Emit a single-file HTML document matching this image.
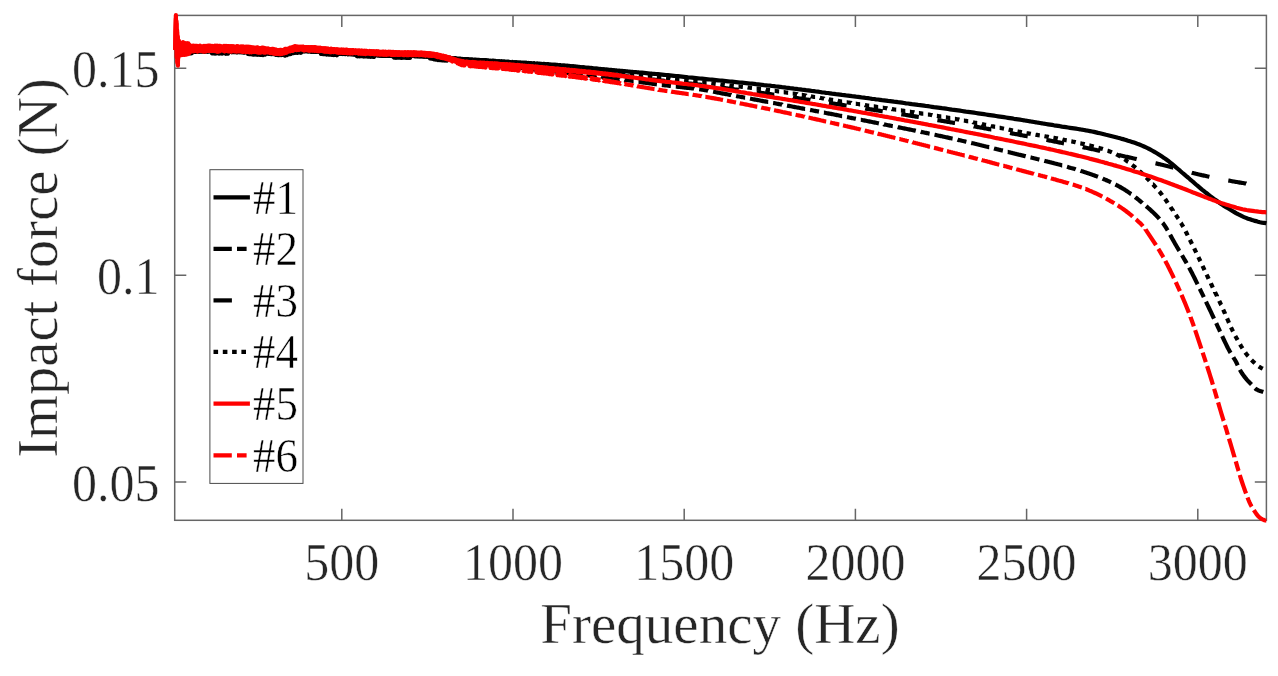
<!DOCTYPE html>
<html lang="en">
<head>
<meta charset="utf-8">
<title>Impact force vs frequency</title>
<style>
html,body{margin:0;padding:0;background:#fff;}
body{width:1278px;height:676px;overflow:hidden;font-family:"Liberation Serif",serif;}
svg{display:block;}
</style>
</head>
<body>
<svg width="1278" height="676" viewBox="0 0 1278 676">
<rect x="0" y="0" width="1278" height="676" fill="#fff"/>
<g fill="none" stroke="#666666" stroke-width="1.5">
<rect x="174.7" y="15.4" width="1091.7" height="504.9"/>
<path d="M341.8 520.3V508.7M341.8 15.4V27.0M513.0 520.3V508.7M513.0 15.4V27.0M684.2 520.3V508.7M684.2 15.4V27.0M855.4 520.3V508.7M855.4 15.4V27.0M1026.6 520.3V508.7M1026.6 15.4V27.0M1197.8 520.3V508.7M1197.8 15.4V27.0M174.7 68.3H186.3M1266.4 68.3H1254.8M174.7 275.2H186.3M1266.4 275.2H1254.8M174.7 482.0H186.3M1266.4 482.0H1254.8"/>
</g>
<g font-family="'Liberation Serif', serif">
<text transform="translate(341.8 579.8) scale(1.0 1.056)" font-size="50px" text-anchor="middle" fill="#262626" stroke="#fff" stroke-width="0.45">500</text>
<text transform="translate(513.0 579.8) scale(1.0 1.056)" font-size="50px" text-anchor="middle" fill="#262626" stroke="#fff" stroke-width="0.45">1000</text>
<text transform="translate(684.2 579.8) scale(1.0 1.056)" font-size="50px" text-anchor="middle" fill="#262626" stroke="#fff" stroke-width="0.45">1500</text>
<text transform="translate(855.4 579.8) scale(1.0 1.056)" font-size="50px" text-anchor="middle" fill="#262626" stroke="#fff" stroke-width="0.45">2000</text>
<text transform="translate(1026.6 579.8) scale(1.0 1.056)" font-size="50px" text-anchor="middle" fill="#262626" stroke="#fff" stroke-width="0.45">2500</text>
<text transform="translate(1197.8 579.8) scale(1.0 1.056)" font-size="50px" text-anchor="middle" fill="#262626" stroke="#fff" stroke-width="0.45">3000</text>
<text transform="translate(159.6 86.8) scale(1.0 1.056)" font-size="50px" text-anchor="end" fill="#262626" stroke="#fff" stroke-width="0.45">0.15</text>
<text transform="translate(159.6 293.7) scale(1.0 1.056)" font-size="50px" text-anchor="end" fill="#262626" stroke="#fff" stroke-width="0.45">0.1</text>
<text transform="translate(159.6 500.5) scale(1.0 1.056)" font-size="50px" text-anchor="end" fill="#262626" stroke="#fff" stroke-width="0.45">0.05</text>
<text id="xlabel" transform="translate(720.0 642.9) scale(1.018 1.0)" font-size="56px" text-anchor="middle" fill="#262626" stroke="#fff" stroke-width="0.45">Frequency (Hz)</text>
<text id="ylabel" transform="translate(56.6 267.9) rotate(-90)" font-size="56.5px" text-anchor="middle" fill="#262626" stroke="#fff" stroke-width="0.45">Impact force (N)</text>
</g>
<g fill="none" stroke-width="4.2" stroke-linejoin="round" stroke-linecap="butt">
<path id="c1" stroke="#000" d="M178.0 51.2L178.5 48.4L179.0 51.5L179.5 48.4L180.0 52.0L180.5 48.6L181.0 51.6L181.5 49.0L182.0 51.4L182.5 48.6L183.0 51.7L183.5 48.4L184.0 51.4L184.5 49.0L185.0 51.4L185.5 48.3L186.0 51.3L186.5 48.7L187.0 51.9L187.5 49.1L188.0 51.6L188.5 48.3L189.0 51.3L189.5 48.7L190.0 51.8L190.5 49.0L191.0 51.5L191.5 48.5L192.0 51.6L192.5 48.7L193.0 51.3L193.5 48.7L194.0 51.4L194.5 48.7L195.0 51.4L195.5 48.4L196.0 51.7L196.5 48.9L197.0 51.5L197.5 48.9L198.0 51.4L198.5 48.8L199.0 51.6L199.5 48.8L200.0 51.4L200.5 48.6L201.0 51.4L201.5 48.4L202.0 51.2L202.5 48.5L203.0 51.4L203.5 48.8L204.0 51.6L204.5 48.7L205.0 51.4L205.5 49.1L206.0 51.2L206.5 48.6L207.0 51.5L207.5 48.6L208.0 51.8L208.5 48.6L209.0 51.1L209.5 48.9L210.0 51.6L210.5 49.0L211.0 51.9L211.5 48.5L212.0 51.8L212.5 48.9L213.0 51.8L213.5 49.1L214.0 51.4L214.5 48.9L215.0 51.7L215.5 48.9L216.0 51.3L216.5 49.0L217.0 51.4L217.5 49.1L218.0 51.3L218.5 49.0L219.0 51.5L219.5 48.7L220.0 51.8L220.5 48.9L221.0 51.6L221.5 48.8L222.0 51.9L222.5 48.9L223.0 51.9L223.5 48.7L224.0 51.3L224.5 48.8L225.0 51.5L225.5 49.1L226.0 51.9L226.5 48.9L227.0 51.4L227.5 49.0L228.0 51.4L228.5 49.2L229.0 52.0L229.5 49.2L230.0 51.8L230.5 49.0L231.0 52.0L231.5 49.0L232.0 51.4L232.5 49.3L233.0 51.8L233.5 49.6L234.0 51.9L234.5 49.2L235.0 52.1L235.5 49.0L236.0 51.6L236.5 49.5L237.0 52.0L237.5 49.6L238.0 51.7L238.5 49.3L239.0 51.7L239.5 49.2L240.0 52.2L240.5 49.8L241.0 52.0L241.5 49.2L242.0 52.4L242.5 49.7L243.0 51.8L243.5 49.3L244.0 52.4L244.5 49.8L245.0 52.1L245.5 49.5L246.0 52.4L246.5 49.9L247.0 52.3L247.5 49.5L248.0 52.3L248.5 50.0L249.0 52.0L249.5 50.0L250.0 52.6L250.5 50.2L251.0 52.0L251.5 50.0L252.0 52.1L252.5 50.2L253.0 52.1L253.5 50.0L254.0 52.7L254.5 50.2L255.0 52.3L255.5 50.3L256.0 52.7L256.5 49.9L257.0 53.0L257.5 50.5L258.0 52.4L258.5 50.2L259.0 53.1L259.5 50.5L260.0 53.0L260.5 50.3L261.0 53.0L261.5 50.3L262.0 52.6L262.5 50.8L263.0 52.9L263.5 51.0L264.0 53.4L264.5 51.2L265.0 53.3L265.5 51.2L266.0 53.2L266.5 51.1L267.0 53.1L267.5 51.1L268.0 53.4L268.5 51.3L269.0 53.7L269.5 51.6L270.0 53.4L270.5 51.5L271.0 53.6L271.5 51.7L272.0 54.1L272.5 51.5L273.0 53.7L273.5 51.9L274.0 53.9L274.5 52.0L275.0 54.1L275.5 52.2L276.0 54.6L276.5 52.4L277.0 54.6L277.5 52.4L278.0 54.8L278.5 52.9L279.0 54.9L279.5 52.4L280.0 54.8L280.5 52.8L281.0 54.8L281.5 52.4L282.0 54.6L282.5 52.6L283.0 54.6L283.5 51.9L284.0 54.0L284.5 51.8L285.0 53.5L285.5 51.3L286.0 53.6L286.5 51.2L287.0 53.3L287.5 51.2L288.0 52.8L288.5 50.9L289.0 52.7L289.5 50.7L290.0 52.5L290.5 50.2L291.0 51.9L291.5 50.1L292.0 51.7L292.5 49.4L293.0 51.4L293.5 49.4L294.0 51.2L294.5 49.3L295.0 51.1L295.5 49.0L296.0 50.7L296.5 49.0L297.0 50.9L297.5 49.1L298.0 51.0L298.5 49.1L299.0 51.0L299.5 48.9L300.0 50.6L300.5 49.0L301.0 50.8L301.5 49.0L302.0 50.9L302.5 49.2L303.0 51.1L303.5 49.4L304.0 51.0L304.5 49.3L305.0 50.8L305.5 49.2L306.0 51.1L306.5 49.2L307.0 51.2L307.5 49.5L308.0 51.4L308.5 49.7L309.0 51.0L309.5 49.4L310.0 51.2L310.5 49.6L311.0 51.5L311.5 49.7L312.0 51.6L312.5 49.6L313.0 51.3L313.5 50.0L314.0 51.4L314.5 49.6L315.0 51.5L315.5 50.1L316.0 51.5L316.5 49.8L317.0 51.5L317.5 49.9L318.0 51.6L318.5 49.9L319.0 51.9L319.5 50.4L320.0 52.1L320.5 50.4L321.0 52.1L321.5 50.4L322.0 51.9L322.5 50.7L323.0 52.0L323.5 50.7L324.0 52.1L324.5 50.9L325.0 52.6L325.5 51.0L326.0 52.5L326.5 51.0L327.0 52.4L327.5 50.8L328.0 52.8L328.5 51.0L329.0 52.5L329.5 50.9L330.0 52.6L330.5 51.3L331.0 52.9L331.5 51.1L332.0 53.1L332.5 51.3L333.0 53.0L333.5 51.3L334.0 53.3L334.5 51.4L335.0 53.3L335.5 51.8L336.0 53.1L336.5 51.7L337.0 53.3L337.5 51.6L338.0 53.2L338.5 51.7L339.0 53.4L339.5 51.7L340.0 53.3L340.5 51.9L341.0 53.3L341.5 52.1L342.0 53.8L342.5 52.1L343.0 53.8L343.5 52.1L344.0 53.5L344.5 52.0L345.0 53.5L345.5 52.1L346.0 53.6L346.5 52.2L347.0 53.7L347.5 52.4L348.0 54.1L348.5 52.4L349.0 54.0L349.5 52.3L350.0 53.8L350.5 52.3L351.0 54.2L351.5 52.7L352.0 54.1L352.5 52.7L353.0 54.2L353.5 52.8L354.0 54.2L354.5 52.5L355.0 54.3L355.5 52.9L356.0 54.4L356.5 52.9L357.0 54.4L357.5 52.8L358.0 54.2L358.5 52.8L359.0 54.5L359.5 52.8L360.0 54.6L360.5 53.1L361.0 54.3L361.5 53.2L362.0 54.5L362.5 53.1L363.0 54.5L363.5 53.1L364.0 54.5L364.5 53.4L365.0 54.6L365.5 53.3L366.0 54.7L366.5 53.1L367.0 54.6L367.5 53.2L368.0 54.8L368.5 53.4L369.0 54.8L369.5 53.2L370.0 54.8L370.5 53.3L371.0 55.0L371.5 53.5L372.0 55.1L372.5 53.5L373.0 55.0L373.5 53.5L374.0 55.0L374.5 53.6L375.0 55.0L375.5 53.5L376.0 55.1L376.5 53.8L377.0 55.1L377.5 53.6L378.0 55.3L378.5 53.8L379.0 55.2L379.5 53.9L380.0 55.5L380.5 54.1L381.0 55.5L381.5 53.8L382.0 55.3L382.5 54.1L383.0 55.5L383.5 53.9L384.0 55.6L384.5 53.9L385.0 55.4L385.5 54.3L386.0 55.5L386.5 54.2L387.0 55.6L387.5 54.4L388.0 55.7L388.5 54.1L389.0 55.8L389.5 54.1L390.0 55.8L390.5 54.2L391.0 55.5L391.5 54.2L392.0 55.6L392.5 54.5L393.0 55.7L393.5 54.2L394.0 55.8L394.5 54.5L395.0 55.7L395.5 54.3L396.0 55.9L396.5 54.6L397.0 55.7L397.5 54.6L398.0 55.7L398.5 54.5L399.0 55.7L399.5 54.5L400.0 56.0L400.5 54.4L401.0 55.7L401.5 54.7L402.0 55.8L402.5 54.5L403.0 55.8L403.5 54.7L404.0 55.8L404.5 54.7L405.0 56.0L405.5 54.6L406.0 55.9L406.5 54.6L407.0 55.9L407.5 54.6L408.0 55.9L408.5 54.7L409.0 56.1L409.5 54.6L410.0 56.1L410.5 54.8L411.0 56.0L411.5 54.8L412.0 55.8L412.5 54.8L413.0 55.8L413.5 54.8L414.0 56.1L414.5 54.7L415.0 56.1L415.5 54.9L416.0 55.9L416.5 55.0L417.0 55.9L417.5 55.0L418.0 56.2L418.5 54.7L419.0 56.0L419.5 55.0L420.0 56.3L420.5 54.9L421.0 56.1L421.5 55.0L422.0 56.1L422.5 55.0L423.0 56.3L423.5 55.0L424.0 56.4L424.5 55.2L425.0 56.3L425.5 55.0L426.0 56.3L426.5 55.2L427.0 56.5L427.5 55.4L428.0 56.7L428.5 55.4L429.0 56.6L429.5 55.3L430.0 56.5L430.5 55.4L431.0 56.7L431.5 55.8L432.0 57.0L432.5 55.9L433.0 57.0L433.5 56.2L434.0 57.3L434.5 56.2L435.0 57.7L435.5 56.5L436.0 57.9L436.5 56.6L437.0 57.9L437.5 57.0L438.0 58.1L438.5 57.1L439.0 58.0L439.5 56.9L440.0 58.4L440.5 57.2L441.0 58.4L441.5 57.2L442.0 58.6L442.5 57.4L443.0 58.5L443.5 57.5L444.0 58.5L444.5 57.5L445.0 58.6L445.5 57.7L446.0 58.7L446.5 57.6L447.0 58.7L447.5 57.6L448.0 58.9L448.5 57.8L449.0 59.0L449.5 58.0L450.0 58.9L450.5 57.8L451.0 59.2L451.5 58.1L452.0 59.2L452.5 58.2L453.0 59.1L453.5 58.3L454.0 59.2L454.5 58.3L455.0 59.5L455.5 58.3L456.0 59.3L456.5 58.5L457.0 59.3L457.5 58.6L458.0 59.6L458.5 58.6L459.0 59.6L459.5 58.7L460.0 59.7L460.5 58.7L461.0 59.8L461.5 59.0L462.0 59.9L462.5 59.0L463.0 60.0L463.5 59.1L464.0 60.2L464.5 59.2L465.0 60.3L465.5 59.2L466.0 60.1L466.5 59.2L467.0 60.3L467.5 59.2L468.0 60.2L468.5 59.3L469.0 60.5L469.5 59.5L470.0 60.4L470.5 59.4L471.0 60.4L471.5 59.4L472.0 60.6L472.5 59.5L473.0 60.6L473.5 59.6L474.0 60.6L474.5 59.7L475.0 60.8L475.5 59.6L476.0 60.7L476.5 59.9L477.0 60.7L477.5 59.9L478.0 61.0L478.5 60.0L479.0 60.9L479.5 60.0L480.0 61.1L480.5 60.1L481.0 60.9L481.5 60.1L482.0 61.1L482.5 60.2L483.0 61.2L483.5 60.2L484.0 61.1L484.5 60.3L485.0 61.4L485.5 60.2L486.0 61.2L486.5 60.3L487.0 61.3L487.5 60.4L488.0 61.5L488.5 60.4L489.0 61.6L489.5 60.7L490.0 61.6L490.5 60.7L491.0 61.7L491.5 60.9L492.0 61.7L492.5 60.7L493.0 61.7L493.5 60.8L494.0 61.9L494.5 60.9L495.0 62.0L495.5 61.0L496.0 61.9L496.5 61.1L497.0 62.0L497.5 61.2L498.0 62.1L498.5 61.3L499.0 62.0L499.5 61.1L500.0 62.3L500.5 61.4L501.0 62.2L501.5 61.3L502.0 62.4L502.5 61.5L503.0 62.4L503.5 61.4L504.0 62.3L504.5 61.4L505.0 62.5L505.5 61.7L506.0 62.7L506.5 61.8L507.0 62.6L507.5 61.7L508.0 62.6L508.5 61.7L509.0 62.8L509.5 62.0L510.0 62.7L510.5 62.1L511.0 62.9L511.5 62.1L512.0 63.0L512.5 62.0L513.0 63.1L513.5 62.2L514.0 63.0L514.5 62.2L515.0 63.1L515.5 62.3L516.0 63.2L516.5 62.3L517.0 63.2L517.5 62.4L518.0 63.3L518.5 62.5L519.0 63.4L519.5 62.5L520.0 63.5L520.5 62.5L521.0 63.4L521.5 62.7L522.0 63.6L522.5 62.7L523.0 63.5L523.5 62.7L524.0 63.6L524.5 62.8L525.0 63.8L525.5 62.8L526.0 63.8L526.5 62.8L527.0 63.8L527.5 63.1L528.0 63.8L528.5 63.0L529.0 63.9L529.5 63.1L530.0 64.0L530.5 63.1L531.0 64.1L531.5 63.3L532.0 64.1L532.5 63.4L533.0 64.2L533.5 63.4L534.0 64.2L534.5 63.3L535.0 64.3L535.5 63.6L536.0 64.5L536.5 63.7L537.0 64.4L537.5 63.5L538.0 64.5L538.5 63.7L539.0 64.5L539.5 63.8L540.0 64.7L540.5 63.9L541.0 64.7L541.5 63.9L542.0 64.8L542.5 64.1L543.0 64.8L543.5 63.9L544.0 64.9L544.5 64.0L545.0 64.9L545.5 64.2L546.0 65.0L546.5 64.2L547.0 65.1L547.5 64.2L548.0 65.2L548.5 64.3L549.0 65.3L549.5 64.5L550.0 65.4L550.5 64.5L551.0 65.3L551.5 64.7L552.0 65.5L552.5 64.6L553.0 65.4L553.5 64.7L554.0 65.5L554.5 64.8L555.0 65.7L555.5 64.8L556.0 65.6L556.5 65.0L557.0 65.8L557.5 64.9L558.0 65.9L558.5 65.1L559.0 65.9L559.5 65.1L560.0 66.1L560.5 65.2L561.0 66.2L561.5 65.4L562.0 66.1L562.5 65.5L563.0 66.3L563.5 65.4L564.0 66.3L564.5 65.5L565.0 66.3L565.5 65.7L566.0 66.4L566.5 65.8L567.0 66.4L567.5 65.8L568.0 66.6L568.5 65.9L569.0 66.7L569.5 66.0L570.0 66.8L570.5 66.1L571.0 66.9L571.5 66.2L572.0 67.0L572.5 66.3L573.0 66.9L573.5 66.3L574.0 67.1L574.5 66.6L575.0 67.2L575.5 66.5L576.0 67.3L576.5 66.6L577.0 67.4L577.5 66.8L578.0 67.4L578.5 66.9L579.0 67.5L579.5 66.9L580.0 67.7L580.5 67.1L581.0 67.7L581.5 67.1L582.0 67.8L582.5 67.3L583.0 67.8L583.5 67.3L584.0 68.0L584.5 67.4L585.0 68.0L585.5 67.6L586.0 68.2L586.5 67.6L587.0 68.3L587.5 67.7L588.0 68.3L588.5 67.7L589.0 68.3L589.5 67.9L590.0 68.4L590.5 68.0L591.0 68.6L591.5 68.1L592.0 68.7L592.5 68.2L593.0 68.7L593.5 68.3L594.0 68.7L594.5 68.4L595.0 68.9L595.5 68.5L596.0 69.0L596.5 68.5L597.0 69.0L597.5 68.6L598.0 69.2L598.5 68.8L599.0 69.2L599.5 68.9L600.0 69.3L600.5 68.9L601.0 69.4L601.5 69.1L602.0 69.4L602.5 69.2L603.0 69.5L603.5 69.2L604.0 69.6L604.5 69.3L605.0 69.7L605.5 69.4L606.0 69.8L606.5 69.5L607.0 69.9L607.5 69.6L608.0 70.0L608.5 69.6L609.0 70.0L609.5 69.8L610.0 70.1L610.5 69.9L611.0 70.2L611.5 69.9L612.0 70.3L612.5 70.0L613.0 70.3L613.5 70.1L614.0 70.5L614.5 70.2L615.0 70.5L615.5 70.3L616.0 70.6L616.5 70.4L617.0 70.7L617.5 70.5L618.0 70.8L618.5 70.6L619.0 70.9L619.5 70.7L620.0 70.9L620.5 70.8L621.0 71.0L621.5 70.9L622.0 71.1L622.5 70.9L623.0 71.2L623.5 71.0L624.0 71.2L624.5 71.1L625.0 71.3L625.5 71.2L626.0 71.4L626.5 71.3L627.0 71.5L627.5 71.4L628.0 71.6L628.5 71.5L629.0 71.7L629.5 71.6L630.0 71.8L630.5 71.7L631.0 71.8L631.5 71.8L632.0 71.9L632.5 71.9L633.0 72.0L633.5 72.0L634.0 72.1L634.5 72.1L635.0 72.2L635.5 72.2L636.0 72.2L636.5 72.2L637.0 72.3L637.5 72.3L638.0 72.4L638.5 72.4L639.0 72.5L639.5 72.5L640.0 72.6L642.0 72.7L644.0 72.9L646.0 73.1L648.0 73.3L650.0 73.5L652.0 73.7L654.0 73.8L656.0 74.0L658.0 74.2L660.0 74.4L662.0 74.6L664.0 74.8L666.0 75.0L668.0 75.2L670.0 75.4L672.0 75.6L674.0 75.8L676.0 76.0L678.0 76.2L680.0 76.4L682.0 76.6L684.0 76.8L686.0 77.0L688.0 77.3L690.0 77.5L692.0 77.7L694.0 77.9L696.0 78.1L698.0 78.3L700.0 78.5L702.0 78.7L704.0 78.9L706.0 79.1L708.0 79.3L710.0 79.5L712.0 79.7L714.0 79.9L716.0 80.1L718.0 80.3L720.0 80.5L722.0 80.7L724.0 80.9L726.0 81.1L728.0 81.3L730.0 81.5L732.0 81.7L734.0 81.9L736.0 82.1L738.0 82.3L740.0 82.5L742.0 82.7L744.0 82.9L746.0 83.1L748.0 83.3L750.0 83.5L752.0 83.7L754.0 83.9L756.0 84.2L758.0 84.4L760.0 84.6L762.0 84.8L764.0 85.1L766.0 85.3L768.0 85.5L770.0 85.7L772.0 86.0L774.0 86.2L776.0 86.5L778.0 86.7L780.0 86.9L782.0 87.2L784.0 87.4L786.0 87.7L788.0 87.9L790.0 88.2L792.0 88.4L794.0 88.7L796.0 88.9L798.0 89.2L800.0 89.4L802.0 89.7L804.0 89.9L806.0 90.2L808.0 90.4L810.0 90.7L812.0 91.0L814.0 91.2L816.0 91.5L818.0 91.7L820.0 92.0L822.0 92.3L824.0 92.5L826.0 92.8L828.0 93.0L830.0 93.3L832.0 93.6L834.0 93.8L836.0 94.1L838.0 94.3L840.0 94.6L842.0 94.9L844.0 95.1L846.0 95.4L848.0 95.6L850.0 95.9L852.0 96.2L854.0 96.4L856.0 96.7L858.0 96.9L860.0 97.2L862.0 97.5L864.0 97.7L866.0 98.0L868.0 98.2L870.0 98.5L872.0 98.8L874.0 99.0L876.0 99.3L878.0 99.5L880.0 99.8L882.0 100.1L884.0 100.3L886.0 100.6L888.0 100.9L890.0 101.1L892.0 101.4L894.0 101.7L896.0 101.9L898.0 102.2L900.0 102.4L902.0 102.7L904.0 103.0L906.0 103.3L908.0 103.5L910.0 103.8L912.0 104.1L914.0 104.3L916.0 104.6L918.0 104.9L920.0 105.1L922.0 105.4L924.0 105.7L926.0 106.0L928.0 106.2L930.0 106.5L932.0 106.8L934.0 107.1L936.0 107.3L938.0 107.6L940.0 107.9L942.0 108.2L944.0 108.4L946.0 108.7L948.0 109.0L950.0 109.3L952.0 109.6L954.0 109.8L956.0 110.1L958.0 110.4L960.0 110.7L962.0 111.0L964.0 111.3L966.0 111.6L968.0 111.8L970.0 112.1L972.0 112.4L974.0 112.7L976.0 113.0L978.0 113.3L980.0 113.6L982.0 113.9L984.0 114.2L986.0 114.5L988.0 114.8L990.0 115.1L992.0 115.4L994.0 115.7L996.0 116.0L998.0 116.3L1000.0 116.6L1002.0 116.9L1004.0 117.2L1006.0 117.5L1008.0 117.8L1010.0 118.1L1012.0 118.4L1014.0 118.8L1016.0 119.1L1018.0 119.4L1020.0 119.7L1022.0 120.0L1024.0 120.3L1026.0 120.7L1028.0 121.0L1030.0 121.3L1032.0 121.7L1034.0 122.0L1036.0 122.3L1038.0 122.7L1040.0 123.0L1042.0 123.3L1044.0 123.7L1046.0 124.0L1048.0 124.3L1050.0 124.6L1052.0 124.9L1054.0 125.3L1056.0 125.6L1058.0 125.9L1060.0 126.2L1062.0 126.6L1064.0 126.9L1066.0 127.2L1068.0 127.5L1070.0 127.8L1072.0 128.1L1074.0 128.4L1076.0 128.7L1078.0 129.0L1080.0 129.3L1082.0 129.7L1084.0 130.0L1086.0 130.4L1088.0 130.7L1090.0 131.1L1092.0 131.5L1094.0 131.9L1096.0 132.4L1098.0 132.9L1100.0 133.3L1102.0 133.8L1104.0 134.3L1106.0 134.8L1108.0 135.2L1110.0 135.7L1112.0 136.2L1114.0 136.7L1116.0 137.2L1118.0 137.8L1120.0 138.3L1122.0 138.9L1124.0 139.4L1126.0 140.0L1128.0 140.7L1130.0 141.3L1132.0 141.9L1134.0 142.6L1136.0 143.3L1138.0 144.1L1140.0 144.8L1142.0 145.6L1144.0 146.5L1146.0 147.4L1148.0 148.3L1150.0 149.4L1152.0 150.5L1154.0 151.6L1156.0 152.8L1158.0 154.0L1160.0 155.3L1162.0 156.6L1164.0 157.9L1166.0 159.3L1168.0 160.7L1170.0 162.3L1172.0 163.9L1174.0 165.6L1176.0 167.3L1178.0 169.0L1180.0 170.7L1182.0 172.5L1184.0 174.2L1186.0 175.9L1188.0 177.5L1190.0 179.3L1192.0 181.0L1194.0 182.7L1196.0 184.5L1198.0 186.2L1200.0 187.9L1202.0 189.6L1204.0 191.2L1206.0 192.8L1208.0 194.3L1210.0 195.9L1212.0 197.4L1214.0 198.9L1216.0 200.3L1218.0 201.8L1220.0 203.2L1222.0 204.6L1224.0 205.9L1226.0 207.1L1228.0 208.3L1230.0 209.5L1232.0 210.7L1234.0 211.9L1236.0 213.1L1238.0 214.2L1240.0 215.2L1242.0 216.2L1244.0 217.1L1246.0 217.9L1248.0 218.7L1250.0 219.3L1252.0 220.0L1254.0 220.6L1256.0 221.1L1258.0 221.7L1260.0 222.2L1262.0 222.6L1264.0 222.9L1266.0 223.2L1266.4 223.3"/>
<path id="c2" stroke="#000" d="M178.0 51.5L178.5 48.8L179.0 51.4L179.5 48.7L180.0 51.5L180.5 48.5L181.0 51.4L181.5 49.0L182.0 51.5L182.5 48.8L183.0 51.7L183.5 48.9L184.0 51.7L184.5 48.8L184.8 50.5M189.8 50.2L190.0 51.4L190.5 48.7L191.0 52.0L191.5 48.9L192.0 52.1L192.5 48.9L193.0 51.7L193.5 49.0L194.0 51.9L194.5 48.9L195.0 51.7L195.5 49.0L196.0 51.9L196.5 49.3L197.0 51.8L197.5 49.3L198.0 51.5L198.5 49.3L199.0 51.7L199.5 48.6L200.0 51.4L200.5 49.2L201.0 51.7L201.5 49.3L202.0 51.6L202.5 49.0L203.0 51.3L203.5 48.6L204.0 51.6L204.5 48.9L205.0 51.4L205.5 48.6L206.0 51.4L206.5 49.0L207.0 51.4L207.5 49.2L208.0 51.4L208.3 50.1M213.3 50.5L213.5 49.4L214.0 51.4L214.5 49.4L215.0 51.5L215.5 49.1L216.0 52.1L216.5 49.2L217.0 52.0L217.5 49.3L218.0 52.1L218.5 49.2L219.0 51.6L219.5 49.4L220.0 51.5L220.5 49.5L221.0 52.1L221.5 49.0L222.0 51.6L222.4 49.6M227.4 50.2L227.5 49.5L228.0 52.1L228.5 49.4L229.0 51.8L229.5 49.3L230.0 51.8L230.5 49.1L231.0 51.8L231.5 49.7L232.0 52.3L232.5 49.7L233.0 52.2L233.5 49.2L234.0 52.2L234.5 49.1L235.0 51.9L235.5 49.6L236.0 52.2L236.5 49.8L237.0 52.5L237.5 49.4L238.0 52.3L238.5 49.5L239.0 52.2L239.5 49.8L240.0 51.9L240.5 49.8L241.0 51.9L241.5 49.6L242.0 52.0L242.5 49.4L243.0 52.0L243.5 49.9L244.0 52.6L244.5 49.7L245.0 52.3L245.5 49.6L245.9 51.6M250.9 51.8L251.0 52.5L251.5 50.3L252.0 52.8L252.5 50.2L253.0 52.8L253.5 50.5L254.0 52.7L254.5 50.4L255.0 52.6L255.5 50.6L256.0 53.1L256.5 50.3L257.0 52.9L257.5 50.7L258.0 53.0L258.5 50.6L259.0 52.6L259.5 50.6L260.0 53.1M264.9 53.2L265.0 53.5L265.5 50.8L266.0 53.7L266.5 51.5L267.0 53.4L267.5 51.6L268.0 53.6L268.5 51.1L269.0 53.5L269.5 51.4L270.0 53.8L270.5 51.6L271.0 54.1L271.5 51.9L272.0 53.9L272.5 51.7L273.0 53.9L273.5 52.3L274.0 54.2L274.5 52.2L275.0 54.3L275.5 52.5L276.0 54.8L276.5 52.6L277.0 54.6L277.5 52.5L278.0 55.0L278.5 52.7L279.0 55.2L279.5 53.1L280.0 54.9L280.5 52.7L281.0 55.2L281.5 52.9L282.0 54.9L282.5 52.8L283.0 54.4L283.3 53.2M288.1 52.6L288.5 51.2L289.0 52.7L289.5 50.7L290.0 52.5L290.5 50.4L291.0 52.1L291.5 50.1L292.0 52.0L292.5 49.5L293.0 51.7L293.5 49.6L294.0 51.3L294.5 49.2L295.0 51.0L295.5 49.2L296.0 51.2L296.5 49.1L297.0 51.0M301.9 50.9L302.0 51.2L302.5 49.5L303.0 51.2L303.5 49.6L304.0 51.4L304.5 49.6L305.0 51.0L305.5 49.4L306.0 51.2L306.5 49.6L307.0 51.1L307.5 49.8L308.0 51.3L308.5 49.8L309.0 51.4L309.5 49.8L310.0 51.4L310.5 50.0L311.0 51.5L311.5 49.8L312.0 51.8L312.5 49.8L313.0 51.4L313.5 50.0L314.0 51.8L314.5 49.9L315.0 51.5L315.5 50.3L316.0 51.8L316.5 50.2L317.0 51.7L317.5 50.4L318.0 51.9L318.5 50.2L319.0 51.9L319.5 50.3L320.0 52.3L320.4 51.0M325.4 51.4L325.5 51.0L326.0 52.9L326.5 51.2L327.0 52.7L327.5 51.1L328.0 52.9L328.5 51.4L329.0 52.8L329.5 51.5L330.0 53.1L330.5 51.3L331.0 53.2L331.5 51.5L332.0 52.9L332.5 51.4L333.0 53.0L333.5 51.8L334.0 53.1L334.5 51.8M339.4 52.3L339.5 52.1L340.0 53.8L340.5 52.1L341.0 53.7L341.5 52.0L342.0 53.6L342.5 52.3L343.0 54.0L343.5 52.2L344.0 53.8L344.5 52.3L345.0 54.0L345.5 52.3L346.0 54.0L346.5 52.4L347.0 53.9L347.5 52.5L348.0 54.3L348.5 52.4L349.0 53.9L349.5 52.7L350.0 54.1L350.5 52.7L351.0 54.1L351.5 52.8L352.0 54.3L352.5 52.9L353.0 54.4L353.5 53.0L354.0 54.6L354.5 53.0L355.0 54.6L355.5 52.8L356.0 54.6L356.5 53.0L357.0 54.4L357.5 53.0L357.9 54.1M362.9 54.4L363.0 54.6L363.5 53.5L364.0 55.0L364.5 53.4L365.0 54.9L365.5 53.5L366.0 55.1L366.5 53.6L367.0 55.0L367.5 53.7L368.0 55.1L368.5 53.6L369.0 55.1L369.5 53.5L370.0 54.9L370.5 53.7L371.0 54.9L371.5 53.6L372.0 55.1L372.0 55.1M377.0 55.5L377.0 55.5L377.5 54.1L378.0 55.4L378.5 54.1L379.0 55.4L379.5 54.2L380.0 55.5L380.5 54.2L381.0 55.5L381.5 54.2L382.0 55.8L382.5 54.3L383.0 55.8L383.5 54.1L384.0 55.7L384.5 54.1L385.0 55.9L385.5 54.2L386.0 55.8L386.5 54.5L387.0 55.6L387.5 54.6L388.0 55.7L388.5 54.5L389.0 55.8L389.5 54.4L390.0 55.8L390.5 54.5L391.0 55.8L391.5 54.7L392.0 56.0L392.5 54.7L393.0 56.0L393.5 54.7L394.0 56.0L394.5 54.8L395.0 55.8L395.5 54.7M400.5 54.8L400.5 54.7L401.0 56.3L401.5 54.7L402.0 56.1L402.5 55.0L403.0 55.9L403.5 54.8L404.0 56.1L404.5 54.8L405.0 56.0L405.5 54.9L406.0 56.3L406.5 54.9L407.0 56.3L407.5 55.0L408.0 56.1L408.5 54.8L409.0 56.2L409.5 54.8L409.6 55.1M414.6 55.1L415.0 56.2L415.5 55.1L416.0 56.4L416.5 54.9L417.0 56.3L417.5 54.9L418.0 56.2L418.5 55.1L419.0 56.3L419.5 55.1L420.0 56.3L420.5 55.1L421.0 56.4L421.5 55.3L422.0 56.4L422.5 55.3L423.0 56.3L423.5 55.3L424.0 56.6L424.5 55.4L425.0 56.6L425.5 55.3L426.0 56.6L426.5 55.5L427.0 56.8L427.5 55.5L428.0 56.6L428.5 55.5L429.0 56.8L429.5 55.6L430.0 56.9L430.5 55.6L431.0 57.1L431.5 55.8L432.0 57.2L432.5 56.2L433.0 57.4L433.0 57.4M437.9 58.0L438.0 58.1L438.5 57.4L439.0 58.4L439.5 57.4L440.0 58.6L440.5 57.7L441.0 58.8L441.5 57.6L442.0 59.0L442.5 57.8L443.0 59.1L443.5 57.9L444.0 59.1L444.5 58.1L445.0 59.4L445.5 58.4L446.0 59.5L446.5 58.6L447.0 59.4M451.9 60.2L452.0 60.6L452.5 59.4L453.0 60.5L453.5 59.5L454.0 60.7L454.5 59.8L455.0 61.0L455.5 59.9L456.0 61.2L456.5 60.0L457.0 61.4L457.5 60.4L458.0 61.5L458.5 60.5L459.0 61.5L459.5 60.7L460.0 61.9L460.5 60.9L461.0 62.0L461.5 61.1L462.0 62.2L462.5 61.1L463.0 62.4L463.5 61.4L464.0 62.4L464.5 61.5L465.0 62.7L465.5 61.5L466.0 62.6L466.5 61.6L467.0 62.8L467.5 61.7L468.0 62.9L468.5 61.8L469.0 63.0L469.5 62.1L470.0 63.2L470.1 62.9M475.1 63.3L475.5 62.7L476.0 63.7L476.5 62.7L477.0 63.9L477.5 62.9L478.0 63.8L478.5 62.8L479.0 64.0L479.5 63.0L480.0 64.1L480.5 63.2L481.0 64.3L481.5 63.3L482.0 64.2L482.5 63.4L483.0 64.3L483.5 63.6L484.0 64.4L484.2 64.1M489.1 64.8L489.5 64.0L490.0 65.1L490.5 64.2L491.0 65.1L491.5 64.4L492.0 65.2L492.5 64.4L493.0 65.4L493.5 64.6L494.0 65.5L494.5 64.6L495.0 65.7L495.5 64.6L496.0 65.8L496.5 64.8L497.0 65.9L497.5 64.9L498.0 65.8L498.5 65.1L499.0 66.0L499.5 65.0L500.0 66.1L500.5 65.2L501.0 66.2L501.5 65.2L502.0 66.3L502.5 65.5L503.0 66.4L503.5 65.5L504.0 66.5L504.5 65.6L505.0 66.4L505.5 65.6L506.0 66.7L506.5 65.7L507.0 66.6L507.5 66.0L507.6 66.1M512.5 66.3L513.0 67.4L513.5 66.5L514.0 67.3L514.5 66.6L515.0 67.6L515.5 66.7L516.0 67.7L516.5 66.7L517.0 67.8L517.5 66.8L518.0 67.8L518.5 67.0L519.0 68.0L519.5 67.0L520.0 68.1L520.5 67.3L521.0 68.0L521.5 67.2L521.6 67.5M526.6 68.0L527.0 68.7L527.5 67.8L528.0 68.7L528.5 68.1L529.0 68.8L529.5 68.0L530.0 68.9L530.5 68.2L531.0 69.0L531.5 68.3L532.0 69.1L532.5 68.3L533.0 69.3L533.5 68.5L534.0 69.4L534.5 68.7L535.0 69.6L535.5 68.8L536.0 69.6L536.5 68.6L537.0 69.6L537.5 68.9L538.0 69.8L538.5 69.0L539.0 69.8L539.5 69.0L540.0 70.0L540.5 69.1L541.0 70.0L541.5 69.2L542.0 70.2L542.5 69.4L543.0 70.3L543.5 69.5L544.0 70.4L544.5 69.7L545.0 70.3M550.0 70.9L550.0 71.0L550.5 70.2L551.0 71.0L551.5 70.4L552.0 71.2L552.5 70.4L553.0 71.2L553.5 70.6L554.0 71.3L554.5 70.5L555.0 71.4L555.5 70.6L556.0 71.5L556.5 70.8L557.0 71.7L557.5 70.9L558.0 71.7L558.5 71.1L559.0 71.9L559.0 71.8M564.0 72.4L564.0 72.5L564.5 71.7L565.0 72.6L565.5 71.9L566.0 72.7L566.5 72.0L567.0 72.8L567.5 72.1L568.0 72.8L568.5 72.1L569.0 73.0L569.5 72.3L570.0 73.0L570.5 72.4L571.0 73.2L571.5 72.6L572.0 73.3L572.5 72.6L573.0 73.3L573.5 72.8L574.0 73.5L574.5 72.9L575.0 73.6L575.5 73.1L576.0 73.6L576.5 73.1L577.0 73.9L577.5 73.3L578.0 74.0L578.5 73.4L579.0 74.0L579.5 73.4L580.0 74.1L580.5 73.5L581.0 74.2L581.5 73.8L582.0 74.5L582.4 74.0M587.3 74.7L587.5 74.5L588.0 75.1L588.5 74.6L589.0 75.2L589.5 74.7L590.0 75.4L590.5 74.9L591.0 75.4L591.5 75.0L592.0 75.5L592.5 75.1L593.0 75.7L593.5 75.3L594.0 75.8L594.5 75.4L595.0 75.9L595.5 75.5L596.0 76.0L596.4 75.7M601.3 76.4L601.5 76.3L602.0 76.7L602.5 76.4L603.0 76.9L603.5 76.6L604.0 77.0L604.5 76.7L605.0 77.2L605.5 76.8L606.0 77.2L606.5 77.0L607.0 77.4L607.5 77.2L608.0 77.5L608.5 77.2L609.0 77.7L609.5 77.4L610.0 77.8L610.5 77.5L611.0 77.9L611.5 77.7L612.0 78.0L612.5 77.9L613.0 78.2L613.5 78.0L614.0 78.3L614.5 78.1L615.0 78.5L615.5 78.3L616.0 78.6L616.5 78.4L617.0 78.7L617.5 78.6L618.0 78.9L618.5 78.7L619.0 79.0L619.5 78.9L619.6 79.0M624.6 79.7L625.0 79.9L625.5 79.8L626.0 80.0L626.5 79.9L627.0 80.1L627.5 80.1L628.0 80.3L628.5 80.2L629.0 80.4L629.5 80.4L630.0 80.6L630.5 80.5L631.0 80.7L631.5 80.7L632.0 80.9L632.5 80.8L633.0 81.0L633.5 81.0L633.6 81.0M638.5 81.8L639.0 81.8L639.5 81.9L640.0 82.0L641.0 82.1L642.0 82.3L643.0 82.4L644.0 82.6L645.0 82.7L646.0 82.8L647.0 83.0L648.0 83.1L649.0 83.3L650.0 83.4L651.0 83.5L652.0 83.7L653.0 83.8L654.0 83.9L655.0 84.1L656.0 84.2L656.9 84.3M661.8 84.9L662.0 84.9L663.0 85.1L664.0 85.2L665.0 85.3L666.0 85.4L667.0 85.5L668.0 85.6L669.0 85.8L670.0 85.9L670.9 86.0M675.8 86.5L676.0 86.5L677.0 86.7L678.0 86.8L679.0 86.9L680.0 87.0L681.0 87.1L682.0 87.2L683.0 87.3L684.0 87.4L685.0 87.6L686.0 87.7L687.0 87.8L688.0 87.9L689.0 88.0L690.0 88.1L691.0 88.2L692.0 88.3L693.0 88.4L694.0 88.5L694.2 88.6M699.2 89.2L700.0 89.3L701.0 89.4L702.0 89.6L703.0 89.8L704.0 89.9L705.0 90.1L706.0 90.3L707.0 90.4L708.0 90.6L708.2 90.7M713.1 91.6L714.0 91.8L715.0 92.0L716.0 92.2L717.0 92.4L718.0 92.6L719.0 92.8L720.0 93.0L721.0 93.2L722.0 93.4L723.0 93.6L724.0 93.7L725.0 93.9L726.0 94.1L727.0 94.3L728.0 94.5L729.0 94.7L730.0 94.9L731.0 95.0L731.2 95.1M736.1 96.0L737.0 96.2L738.0 96.4L739.0 96.5L740.0 96.7L741.0 96.9L742.0 97.1L743.0 97.3L744.0 97.5L745.0 97.7L745.1 97.7M750.0 98.6L751.0 98.8L752.0 99.0L753.0 99.2L754.0 99.4L755.0 99.6L756.0 99.7L757.0 99.9L758.0 100.1L759.0 100.3L760.0 100.5L761.0 100.7L762.0 100.9L763.0 101.1L764.0 101.3L765.0 101.4L766.0 101.6L767.0 101.8L768.0 102.0L768.2 102.0M773.1 103.0L774.0 103.1L775.0 103.3L776.0 103.5L777.0 103.7L778.0 103.9L779.0 104.1L780.0 104.3L781.0 104.4L782.0 104.6L782.1 104.7M787.0 105.6L787.0 105.6L788.0 105.8L789.0 105.9L790.0 106.1L791.0 106.3L792.0 106.5L793.0 106.7L794.0 106.9L795.0 107.1L796.0 107.3L797.0 107.5L798.0 107.6L799.0 107.8L800.0 108.0L801.0 108.2L802.0 108.4L803.0 108.6L804.0 108.8L805.0 109.0L805.1 109.0M810.1 109.9L811.0 110.1L812.0 110.3L813.0 110.5L814.0 110.7L815.0 110.9L816.0 111.1L817.0 111.2L818.0 111.4L819.0 111.6L819.0 111.6M823.9 112.6L824.0 112.6L825.0 112.8L826.0 113.0L827.0 113.2L828.0 113.4L829.0 113.6L830.0 113.7L831.0 113.9L832.0 114.1L833.0 114.3L834.0 114.5L835.0 114.7L836.0 114.9L837.0 115.1L838.0 115.3L839.0 115.5L840.0 115.7L841.0 115.9L842.0 116.1L842.1 116.1M847.0 117.1L847.0 117.1L848.0 117.3L849.0 117.5L850.0 117.7L851.0 117.9L852.0 118.1L853.0 118.3L854.0 118.5L855.0 118.6L855.9 118.8M860.8 119.8L861.0 119.8L862.0 120.0L863.0 120.2L864.0 120.4L865.0 120.6L866.0 120.8L867.0 121.0L868.0 121.2L869.0 121.4L870.0 121.6L871.0 121.8L872.0 122.0L873.0 122.2L874.0 122.4L875.0 122.6L876.0 122.8L877.0 123.0L878.0 123.2L878.9 123.4M883.9 124.3L884.0 124.4L885.0 124.6L886.0 124.8L887.0 125.0L888.0 125.2L889.0 125.4L890.0 125.6L891.0 125.8L892.0 126.0L892.8 126.1M897.7 127.1L898.0 127.2L899.0 127.4L900.0 127.6L901.0 127.8L902.0 128.0L903.0 128.2L904.0 128.4L905.0 128.6L906.0 128.8L907.0 129.0L908.0 129.2L909.0 129.4L910.0 129.6L911.0 129.8L912.0 130.0L913.0 130.2L914.0 130.4L915.0 130.6L915.8 130.8M920.7 131.8L921.0 131.9L922.0 132.1L923.0 132.3L924.0 132.5L925.0 132.7L926.0 132.9L927.0 133.1L928.0 133.3L929.0 133.6L929.6 133.7M934.5 134.7L935.0 134.8L936.0 135.0L937.0 135.3L938.0 135.5L939.0 135.7L940.0 135.9L941.0 136.1L942.0 136.3L943.0 136.6L944.0 136.8L945.0 137.0L946.0 137.2L947.0 137.4L948.0 137.6L949.0 137.9L950.0 138.1L951.0 138.3L952.0 138.5L952.6 138.6M957.5 139.7L958.0 139.9L959.0 140.1L960.0 140.3L961.0 140.5L962.0 140.8L963.0 141.0L964.0 141.2L965.0 141.4L966.0 141.7L966.4 141.8M971.2 142.9L972.0 143.1L973.0 143.3L974.0 143.5L975.0 143.8L976.0 144.0L977.0 144.3L978.0 144.5L979.0 144.7L980.0 145.0L981.0 145.2L982.0 145.5L983.0 145.7L984.0 146.0L985.0 146.2L986.0 146.5L987.0 146.7L988.0 146.9L989.0 147.2L989.2 147.2M994.0 148.4L995.0 148.7L996.0 148.9L997.0 149.2L998.0 149.4L999.0 149.7L1000.0 149.9L1001.0 150.2L1002.0 150.4L1002.9 150.6M1007.7 151.9L1008.0 151.9L1009.0 152.2L1010.0 152.4L1011.0 152.7L1012.0 152.9L1013.0 153.2L1014.0 153.4L1015.0 153.7L1016.0 153.9L1017.0 154.2L1018.0 154.4L1019.0 154.7L1020.0 154.9L1021.0 155.1L1022.0 155.4L1023.0 155.6L1024.0 155.9L1025.0 156.1L1025.7 156.3M1030.5 157.4L1031.0 157.5L1032.0 157.8L1033.0 158.0L1034.0 158.3L1035.0 158.5L1036.0 158.7L1037.0 159.0L1038.0 159.2L1039.0 159.5L1039.4 159.6M1044.3 160.7L1045.0 160.9L1046.0 161.2L1047.0 161.4L1048.0 161.7L1049.0 161.9L1050.0 162.2L1051.0 162.4L1052.0 162.7L1053.0 162.9L1054.0 163.2L1055.0 163.5L1056.0 163.7L1057.0 164.0L1058.0 164.3L1059.0 164.5L1060.0 164.8L1061.0 165.1L1062.0 165.4L1062.2 165.4M1067.0 166.8L1067.0 166.8L1068.0 167.1L1069.0 167.4L1070.0 167.7L1071.0 168.0L1072.0 168.2L1073.0 168.5L1074.0 168.8L1075.0 169.1L1075.7 169.4M1080.5 170.8L1081.0 171.0L1082.0 171.3L1083.0 171.6L1084.0 171.9L1085.0 172.3L1086.0 172.6L1087.0 172.9L1088.0 173.3L1089.0 173.6L1090.0 173.9L1091.0 174.3L1092.0 174.6L1093.0 175.0L1094.0 175.3L1095.0 175.7L1096.0 176.1L1097.0 176.4L1098.0 176.8M1102.6 178.6L1103.0 178.8L1104.0 179.2L1105.0 179.6L1106.0 180.0L1107.0 180.5L1108.0 180.9L1109.0 181.4L1110.0 181.8L1111.0 182.3M1115.4 184.5L1116.0 184.8L1117.0 185.3L1118.0 185.9L1119.0 186.4L1120.0 187.0L1121.0 187.5L1122.0 188.1L1123.0 188.7L1124.0 189.3L1125.0 189.9L1126.0 190.6L1127.0 191.2L1128.0 191.9L1129.0 192.6L1130.0 193.3L1131.0 194.0L1131.2 194.1M1135.2 197.1L1136.0 197.8L1137.0 198.5L1138.0 199.3L1139.0 200.2L1140.0 201.0L1141.0 201.8L1142.0 202.6L1142.3 202.9M1146.1 206.1L1147.0 206.9L1148.0 207.8L1149.0 208.7L1150.0 209.5L1151.0 210.4L1152.0 211.4L1153.0 212.3L1154.0 213.2L1155.0 214.2L1156.0 215.2L1157.0 216.3L1158.0 217.3L1159.0 218.4L1159.4 218.9M1162.6 222.8L1163.0 223.2L1164.0 224.6L1165.0 226.1L1166.0 227.6L1167.0 229.3L1167.7 230.4M1170.1 234.8L1171.0 236.4L1172.0 238.2L1173.0 240.0L1174.0 241.8L1175.0 243.6L1176.0 245.3L1177.0 247.0L1178.0 248.7L1179.0 250.3L1179.4 250.9M1182.0 255.3L1182.0 255.3L1183.0 257.0L1184.0 258.7L1185.0 260.4L1186.0 262.1L1186.6 263.2M1189.1 267.6L1190.0 269.3L1191.0 271.2L1192.0 273.1L1193.0 275.1L1194.0 277.0L1195.0 279.0L1196.0 281.1L1197.0 283.1L1197.6 284.3M1199.8 288.8L1200.0 289.2L1201.0 291.3L1202.0 293.4L1203.0 295.4L1203.8 297.1M1206.0 301.7L1207.0 303.8L1208.0 305.9L1209.0 308.0L1210.0 310.1L1211.0 312.2L1212.0 314.4L1213.0 316.5L1214.0 318.6L1214.0 318.6M1216.2 323.2L1217.0 324.9L1218.0 327.1L1219.0 329.2L1220.0 331.4L1220.1 331.6M1222.2 336.2L1223.0 337.9L1224.0 340.0L1225.0 342.1L1226.0 344.2L1227.0 346.2L1228.0 348.2L1229.0 350.0L1230.0 351.9L1230.6 352.9M1233.3 357.2L1234.0 358.4L1235.0 360.0L1236.0 361.8L1237.0 363.8L1237.7 365.3M1239.9 369.8L1240.0 370.0L1241.0 371.7L1242.0 373.3L1243.0 374.7L1244.0 376.1L1245.0 377.4L1246.0 378.6L1247.0 379.8L1248.0 380.9L1249.0 381.9L1250.0 383.0L1251.0 384.0L1251.5 384.5M1255.0 388.2L1255.0 388.2L1256.0 389.1L1257.0 389.7L1258.0 390.2L1259.0 390.6L1260.0 391.0L1261.0 391.3L1262.0 391.6L1263.0 391.8L1263.3 391.9"/>
<path id="c3" stroke="#000" d="M178.0 53.1L178.5 50.5L179.0 53.4L179.5 50.2L180.0 53.8L180.5 50.6L181.0 53.0L181.5 50.7L182.0 53.2L182.5 50.7L183.0 53.3L183.5 50.5L184.0 53.7L184.5 50.1L185.0 53.3L185.5 50.6L186.0 53.6L186.5 50.3L187.0 53.6L187.5 50.5L188.0 52.9L188.5 50.7L189.0 53.1L189.5 50.4L190.0 53.4L190.5 50.8L191.0 53.5L191.5 50.4L192.0 53.2L192.4 51.2M211.2 51.9L211.5 50.3L212.0 53.5L212.5 50.5L213.0 53.4L213.5 50.9L214.0 53.0L214.5 50.9L215.0 53.6L215.5 50.7L216.0 53.0L216.5 50.9L217.0 53.3L217.5 51.0L218.0 53.1L218.5 50.7L219.0 53.7L219.5 51.0L220.0 53.4L220.5 50.5L221.0 53.5L221.5 50.7L222.0 53.6L222.5 50.6L223.0 53.1L223.5 50.8L224.0 53.1L224.5 51.1L225.0 53.1L225.5 51.1L226.0 53.8L226.5 51.1L227.0 53.2L227.5 51.1L228.0 53.7L228.5 50.9L228.9 53.2M247.7 52.8L248.0 53.9L248.5 51.7L249.0 54.1L249.5 51.3L250.0 54.2L250.5 51.7L251.0 54.1L251.5 52.0L252.0 54.3L252.5 51.8L253.0 54.6L253.5 51.8L254.0 54.6L254.5 51.9L255.0 54.4L255.5 52.2L256.0 54.6L256.5 52.4L257.0 54.3L257.5 52.2L258.0 54.8L258.5 52.1L259.0 54.5L259.5 52.0L260.0 54.9L260.5 52.6L261.0 54.5L261.5 52.3L262.0 55.0L262.5 52.3L263.0 55.1L263.5 52.8L264.0 54.6L264.5 52.7L265.0 54.7L265.4 52.9M284.1 55.5L284.5 54.0L285.0 55.7L285.5 53.2L286.0 55.2L286.5 53.2L287.0 55.1L287.5 52.9L288.0 54.4L288.5 52.5L289.0 54.3L289.5 52.0L290.0 54.1L290.5 52.2L291.0 53.9L291.5 51.4L292.0 53.2L292.5 51.5L293.0 53.1L293.5 51.0L294.0 53.0L294.5 50.8L295.0 52.9L295.5 50.7L296.0 52.4L296.5 50.5L297.0 52.8L297.5 50.7L298.0 52.8L298.5 50.7L299.0 52.4L299.5 50.8L300.0 52.5L300.5 51.0L301.0 52.8L301.4 51.3M320.2 53.1L320.5 52.1L321.0 53.9L321.5 52.4L322.0 53.9L322.5 52.1L323.0 54.0L323.5 52.4L324.0 54.2L324.5 52.4L325.0 54.1L325.5 52.4L326.0 54.1L326.5 52.8L327.0 54.6L327.5 52.9L328.0 54.2L328.5 53.0L329.0 54.7L329.5 53.1L330.0 54.6L330.5 52.9L331.0 54.5L331.5 53.2L332.0 54.9L332.5 53.3L333.0 54.8L333.5 53.2L334.0 55.0L334.5 53.4L335.0 54.8L335.5 53.6L336.0 54.9L336.5 53.4L337.0 55.3L337.5 53.5L337.8 54.5M356.6 55.1L357.0 56.2L357.5 54.7L358.0 56.3L358.5 54.9L359.0 56.0L359.5 54.7L360.0 56.3L360.5 54.7L361.0 56.1L361.5 54.8L362.0 56.2L362.5 55.0L363.0 56.2L363.5 55.0L364.0 56.5L364.5 54.8L365.0 56.3L365.5 54.9L366.0 56.4L366.5 55.2L367.0 56.3L367.5 55.0L368.0 56.6L368.5 55.1L369.0 56.5L369.5 55.1L370.0 56.7L370.5 55.2L371.0 56.8L371.5 55.4L372.0 56.7L372.5 55.5L373.0 56.7L373.5 55.3L374.0 56.9L374.3 55.9M393.2 57.0L393.5 56.1L394.0 57.5L394.5 56.2L395.0 57.7L395.5 56.3L396.0 57.8L396.5 56.3L397.0 57.5L397.5 56.2L398.0 57.7L398.5 56.5L399.0 57.6L399.5 56.2L400.0 57.7L400.5 56.4L401.0 57.8L401.5 56.4L402.0 57.8L402.5 56.4L403.0 57.6L403.5 56.5L404.0 57.5L404.5 56.6L405.0 57.6L405.5 56.5L406.0 57.9L406.5 56.6L407.0 57.7L407.5 56.6L408.0 57.7L408.5 56.6L409.0 57.7L409.5 56.6L410.0 57.8L410.5 56.7L410.9 57.5M429.7 57.7L430.0 58.4L430.5 57.2L431.0 58.7L431.5 57.7L432.0 58.6L432.5 57.6L433.0 58.9L433.5 57.9L434.0 59.3L434.5 58.0L435.0 59.3L435.5 58.4L436.0 59.7L436.5 58.4L437.0 59.7L437.5 58.7L438.0 60.0L438.5 58.9L439.0 59.9L439.5 59.0L440.0 60.0L440.5 59.1L441.0 60.1L441.5 59.0L442.0 60.4L442.5 59.3L443.0 60.2L443.5 59.2L444.0 60.4L444.5 59.2L445.0 60.5L445.5 59.3L446.0 60.4L446.5 59.5L447.0 60.5L447.3 59.9M466.0 62.3L466.5 61.3L467.0 62.1L467.5 61.2L468.0 62.4L468.5 61.3L469.0 62.4L469.5 61.4L470.0 62.6L470.5 61.5L471.0 62.6L471.5 61.4L472.0 62.6L472.5 61.7L473.0 62.7L473.5 61.5L474.0 62.6L474.5 61.6L475.0 62.6L475.5 61.7L476.0 62.9L476.5 61.7L477.0 62.8L477.5 61.8L478.0 63.0L478.5 61.9L479.0 63.0L479.5 62.1L480.0 63.1L480.5 62.1L481.0 63.1L481.5 62.2L482.0 63.3L482.5 62.2L483.0 63.3L483.5 62.3L483.7 62.8M502.5 64.0L502.5 64.0L503.0 64.8L503.5 63.9L504.0 65.0L504.5 63.9L505.0 64.8L505.5 64.0L506.0 65.0L506.5 64.3L507.0 65.2L507.5 64.2L508.0 65.1L508.5 64.3L509.0 65.2L509.5 64.3L510.0 65.3L510.5 64.3L511.0 65.4L511.5 64.5L512.0 65.6L512.5 64.7L513.0 65.6L513.5 64.7L514.0 65.6L514.5 64.8L515.0 65.7L515.5 64.8L516.0 65.7L516.5 64.9L517.0 65.9L517.5 65.0L518.0 65.8L518.5 65.0L519.0 65.9L519.5 65.1L520.0 66.1L520.1 65.9M538.9 67.4L539.0 67.5L539.5 66.7L540.0 67.8L540.5 66.9L541.0 67.7L541.5 67.0L542.0 67.8L542.5 67.1L543.0 67.9L543.5 67.2L544.0 68.1L544.5 67.1L545.0 68.0L545.5 67.2L546.0 68.1L546.5 67.4L547.0 68.3L547.5 67.5L548.0 68.4L548.5 67.5L549.0 68.4L549.5 67.6L550.0 68.6L550.5 67.8L551.0 68.7L551.5 67.8L552.0 68.7L552.5 67.9L553.0 68.7L553.5 67.9L554.0 68.9L554.5 68.1L555.0 68.9L555.5 68.1L556.0 68.9L556.5 68.3L556.6 68.4M575.3 70.4L575.5 70.2L576.0 70.9L576.5 70.3L577.0 70.9L577.5 70.3L578.0 71.0L578.5 70.5L579.0 71.2L579.5 70.6L580.0 71.2L580.5 70.7L581.0 71.3L581.5 70.7L582.0 71.5L582.5 70.9L583.0 71.5L583.5 70.9L584.0 71.5L584.5 71.1L585.0 71.7L585.5 71.1L586.0 71.8L586.5 71.3L587.0 71.8L587.5 71.5L588.0 72.0L588.5 71.5L589.0 72.1L589.5 71.6L590.0 72.2L590.5 71.7L591.0 72.2L591.5 71.8L592.0 72.4L592.5 72.0L592.9 72.4M611.6 74.3L612.0 74.6L612.5 74.3L613.0 74.7L613.5 74.4L614.0 74.8L614.5 74.6L615.0 74.9L615.5 74.7L616.0 75.0L616.5 74.8L617.0 75.1L617.5 74.9L618.0 75.3L618.5 75.1L619.0 75.3L619.5 75.2L620.0 75.5L620.5 75.4L621.0 75.6L621.5 75.5L622.0 75.7L622.5 75.6L623.0 75.8L623.5 75.7L624.0 76.0L624.5 75.9L625.0 76.1L625.5 76.0L626.0 76.2L626.5 76.1L627.0 76.4L627.5 76.3L628.0 76.5L628.5 76.4L629.0 76.6L629.2 76.6M647.9 79.0L648.0 79.0L649.0 79.1L650.0 79.2L651.0 79.3L652.0 79.5L653.0 79.6L654.0 79.7L655.0 79.8L656.0 79.9L657.0 80.1L658.0 80.2L659.0 80.3L660.0 80.4L661.0 80.5L662.0 80.6L663.0 80.7L664.0 80.8L665.0 81.0L665.5 81.0M684.2 83.0L685.0 83.0L686.0 83.1L687.0 83.2L688.0 83.3L689.0 83.5L690.0 83.6L691.0 83.7L692.0 83.8L693.0 83.9L694.0 84.0L695.0 84.1L696.0 84.2L697.0 84.3L698.0 84.5L699.0 84.6L700.0 84.7L701.0 84.8L701.8 84.9M720.5 87.5L721.0 87.6L722.0 87.7L723.0 87.8L724.0 88.0L725.0 88.1L726.0 88.3L727.0 88.4L728.0 88.5L729.0 88.7L730.0 88.8L731.0 88.9L732.0 89.1L733.0 89.2L734.0 89.3L735.0 89.5L736.0 89.6L737.0 89.7L738.0 89.8L738.1 89.9M756.7 92.3L757.0 92.3L758.0 92.4L759.0 92.6L760.0 92.7L761.0 92.8L762.0 93.0L763.0 93.1L764.0 93.3L765.0 93.4L766.0 93.5L767.0 93.7L768.0 93.8L769.0 94.0L770.0 94.1L771.0 94.2L772.0 94.4L773.0 94.5L774.0 94.7L774.3 94.7M792.9 97.4L793.0 97.5L794.0 97.6L795.0 97.8L796.0 97.9L797.0 98.1L798.0 98.2L799.0 98.4L800.0 98.5L801.0 98.6L802.0 98.8L803.0 98.9L804.0 99.1L805.0 99.2L806.0 99.4L807.0 99.5L808.0 99.7L809.0 99.8L810.0 100.0L810.4 100.1M829.0 102.9L830.0 103.0L831.0 103.2L832.0 103.4L833.0 103.5L834.0 103.7L835.0 103.8L836.0 104.0L837.0 104.1L838.0 104.3L839.0 104.4L840.0 104.6L841.0 104.8L842.0 104.9L843.0 105.1L844.0 105.2L845.0 105.4L846.0 105.5L846.6 105.6M865.2 108.5L866.0 108.7L867.0 108.8L868.0 109.0L869.0 109.1L870.0 109.3L871.0 109.4L872.0 109.6L873.0 109.7L874.0 109.9L875.0 110.1L876.0 110.2L877.0 110.4L878.0 110.5L879.0 110.7L880.0 110.8L881.0 111.0L882.0 111.2L882.7 111.3M901.3 114.2L902.0 114.3L903.0 114.5L904.0 114.6L905.0 114.8L906.0 115.0L907.0 115.1L908.0 115.3L909.0 115.4L910.0 115.6L911.0 115.8L912.0 115.9L913.0 116.1L914.0 116.2L915.0 116.4L916.0 116.6L917.0 116.7L918.0 116.9L918.8 117.0M937.4 120.1L938.0 120.2L939.0 120.3L940.0 120.5L941.0 120.7L942.0 120.8L943.0 121.0L944.0 121.2L945.0 121.3L946.0 121.5L947.0 121.7L948.0 121.9L949.0 122.0L950.0 122.2L951.0 122.4L952.0 122.5L953.0 122.7L954.0 122.9L955.0 123.0L955.0 123.0M973.7 126.3L974.0 126.4L975.0 126.5L976.0 126.7L977.0 126.9L978.0 127.1L979.0 127.3L980.0 127.5L981.0 127.6L982.0 127.8L983.0 128.0L984.0 128.2L985.0 128.4L986.0 128.5L987.0 128.7L988.0 128.9L989.0 129.1L990.0 129.3L991.0 129.5L991.3 129.5M1010.0 133.0L1011.0 133.2L1012.0 133.4L1013.0 133.6L1014.0 133.8L1015.0 134.0L1016.0 134.1L1017.0 134.3L1018.0 134.5L1019.0 134.7L1020.0 134.9L1021.0 135.1L1022.0 135.3L1023.0 135.5L1024.0 135.7L1025.0 135.8L1026.0 136.0L1027.0 136.2L1027.7 136.3M1046.4 139.9L1047.0 140.0L1048.0 140.2L1049.0 140.4L1050.0 140.6L1051.0 140.8L1052.0 141.0L1053.0 141.2L1054.0 141.4L1055.0 141.6L1056.0 141.8L1057.0 142.0L1058.0 142.2L1059.0 142.4L1060.0 142.6L1061.0 142.8L1062.0 143.0L1063.0 143.2L1064.0 143.4L1064.0 143.4M1082.7 147.1L1083.0 147.2L1084.0 147.4L1085.0 147.6L1086.0 147.8L1087.0 148.0L1088.0 148.2L1089.0 148.4L1090.0 148.7L1091.0 148.9L1092.0 149.1L1093.0 149.3L1094.0 149.5L1095.0 149.7L1096.0 149.9L1097.0 150.2L1098.0 150.4L1099.0 150.6L1100.0 150.8L1100.3 150.9M1119.0 155.1L1120.0 155.3L1121.0 155.6L1122.0 155.8L1123.0 156.0L1124.0 156.2L1125.0 156.5L1126.0 156.7L1127.0 156.9L1128.0 157.1L1129.0 157.4L1130.0 157.6L1131.0 157.8L1132.0 158.0L1133.0 158.3L1134.0 158.5L1135.0 158.7L1136.0 158.9L1136.7 159.1M1155.5 163.3L1156.0 163.4L1157.0 163.6L1158.0 163.9L1159.0 164.1L1160.0 164.3L1161.0 164.6L1162.0 164.8L1163.0 165.0L1164.0 165.3L1165.0 165.5L1166.0 165.8L1167.0 166.0L1168.0 166.3L1169.0 166.5L1170.0 166.8L1171.0 167.1L1172.0 167.3L1173.0 167.6L1173.1 167.6M1191.7 172.7L1192.0 172.8L1193.0 173.0L1194.0 173.3L1195.0 173.5L1196.0 173.8L1197.0 174.0L1198.0 174.3L1199.0 174.5L1200.0 174.7L1201.0 174.9L1202.0 175.2L1203.0 175.4L1204.0 175.6L1205.0 175.8L1206.0 176.0L1207.0 176.3L1208.0 176.5L1209.0 176.7L1209.4 176.8M1228.3 180.5L1229.0 180.6L1230.0 180.8L1231.0 181.0L1232.0 181.2L1233.0 181.4L1234.0 181.5L1235.0 181.7L1236.0 181.9L1237.0 182.0L1238.0 182.2L1239.0 182.4L1240.0 182.6L1241.0 182.7L1242.0 182.9L1243.0 183.0L1244.0 183.2L1245.0 183.4L1246.0 183.5L1246.2 183.6"/>
<path id="c4" stroke="#000" d="M178.0 51.4L178.5 48.1L179.0 51.3L179.5 48.4L179.9 50.3M184.6 49.0L185.0 51.2L185.5 48.3L186.0 51.1L186.5 48.1L187.0 51.2L187.5 48.7L188.0 51.0L188.5 48.1L189.0 51.0M193.7 49.9L194.0 51.7L194.5 48.4L195.0 51.1L195.5 48.5L196.0 51.6L196.5 48.9L197.0 51.4L197.5 48.9L198.0 51.2L198.1 50.6M202.8 50.1L203.0 51.0L203.5 48.4L204.0 51.0L204.5 48.9L205.0 51.6L205.5 48.8L206.0 51.0L206.5 48.5L207.0 51.2L207.2 49.9M211.9 50.6L212.0 51.0L212.5 48.8L213.0 51.2L213.5 49.0L214.0 51.4L214.5 49.0L215.0 51.4L215.5 48.3L216.0 51.7L216.4 49.5M221.0 51.0L221.5 48.6L222.0 51.3L222.5 48.7L223.0 51.4L223.5 48.5L224.0 51.2L224.5 48.5L225.0 51.2L225.5 49.3M230.2 50.6L230.5 48.9L231.0 51.4L231.5 48.9L232.0 51.6L232.5 49.4L233.0 51.5L233.5 49.3L234.0 51.5L234.5 48.9L234.6 49.3M239.3 50.3L239.5 49.2L240.0 52.1L240.5 49.1L241.0 51.7L241.5 49.0L242.0 51.7L242.5 49.6L243.0 51.7L243.5 49.4L243.7 50.4M248.4 50.3L248.5 49.8L249.0 52.0L249.5 49.5L250.0 51.9L250.5 49.5L251.0 52.3L251.5 50.0L252.0 52.0L252.5 49.8L252.8 51.5M257.5 49.8L257.5 49.8L258.0 52.5L258.5 50.5L259.0 52.9L259.5 50.4L260.0 52.5L260.5 50.0L261.0 53.0L261.5 50.2L261.9 52.5M266.6 51.4L267.0 53.0L267.5 51.2L268.0 53.1L268.5 51.3L269.0 53.6L269.5 50.8L270.0 53.3L270.5 51.3L271.0 53.4L271.0 53.3M275.6 52.5L276.0 54.0L276.5 51.9L277.0 54.4L277.5 52.5L278.0 54.6L278.5 52.7L279.0 54.4L279.5 52.5L280.0 54.2L280.0 54.1M284.6 52.0L285.0 53.3L285.5 51.2L286.0 53.3L286.5 51.4L287.0 52.8L287.5 50.7L288.0 52.7L288.5 50.8L288.9 52.0M293.4 49.5L293.5 49.0L294.0 50.8L294.5 49.2L295.0 50.5L295.5 48.9L296.0 50.7L296.5 48.8L297.0 50.5L297.5 49.0L297.8 50.0M302.5 49.1L302.5 49.0L303.0 51.0L303.5 49.2L304.0 50.8L304.5 48.8L305.0 50.7L305.5 48.9L306.0 50.7L306.5 49.3L306.9 50.4M311.6 49.9L312.0 51.3L312.5 49.3L313.0 51.1L313.5 49.5L314.0 51.5L314.5 49.5L315.0 51.4L315.5 49.9L316.0 51.3L316.0 51.3M320.7 50.7L321.0 52.0L321.5 50.4L322.0 51.8L322.5 50.1L323.0 52.0L323.5 50.5L324.0 52.2L324.5 50.5L325.0 52.1L325.1 51.8M329.8 51.8L330.0 52.4L330.5 51.2L331.0 52.8L331.5 51.2L332.0 52.7L332.5 51.3L333.0 52.7L333.5 51.1L334.0 53.0L334.2 52.4M338.9 52.8L339.0 53.3L339.5 51.9L340.0 53.2L340.5 51.8L341.0 53.5L341.5 51.8L342.0 53.5L342.5 51.7L343.0 53.6L343.3 52.7M348.0 53.6L348.0 53.8L348.5 52.1L349.0 53.7L349.5 52.1L350.0 53.7L350.5 52.2L351.0 53.8L351.5 52.4L352.0 53.7L352.4 52.6M357.1 53.8L357.5 52.8L358.0 54.3L358.5 52.8L359.0 54.1L359.5 52.6L360.0 54.3L360.5 52.6L361.0 54.5L361.5 52.9M366.2 54.0L366.5 53.1L367.0 54.3L367.5 53.2L368.0 54.4L368.5 53.0L369.0 54.8L369.5 53.3L370.0 54.8L370.5 53.4L370.6 53.6M375.3 54.1L375.5 53.4L376.0 54.9L376.5 53.5L377.0 55.1L377.5 53.7L378.0 54.8L378.5 53.7L379.0 55.1L379.5 53.5L379.7 54.3M384.4 54.2L384.5 54.0L385.0 55.5L385.5 53.9L386.0 55.4L386.5 53.8L387.0 55.5L387.5 54.2L388.0 55.2L388.5 53.9L388.8 54.8M393.5 54.2L394.0 55.8L394.5 54.1L395.0 55.6L395.5 54.2L396.0 55.4L396.5 54.1L397.0 55.7L397.5 54.5L397.9 55.5M402.6 54.7L403.0 55.9L403.5 54.3L404.0 55.7L404.5 54.6L405.0 55.9L405.5 54.5L406.0 55.8L406.5 54.6L407.0 55.7L407.1 55.5M411.8 55.2L412.0 55.6L412.5 54.6L413.0 55.7L413.5 54.5L414.0 55.7L414.5 54.5L415.0 55.9L415.5 54.5L416.0 55.9L416.2 55.4M420.9 55.6L421.0 55.8L421.5 54.9L422.0 56.0L422.5 54.8L423.0 56.2L423.5 55.0L424.0 56.2L424.5 54.9L425.0 56.0L425.3 55.3M430.0 56.5L430.0 56.5L430.5 55.3L431.0 56.5L431.5 55.4L432.0 56.9L432.5 55.7L433.0 57.0L433.5 56.0L434.0 57.0L434.3 56.3M439.0 57.9L439.0 58.0L439.5 56.9L440.0 58.1L440.5 57.2L441.0 58.2L441.5 57.1L442.0 58.3L442.5 57.5L443.0 58.5L443.4 57.7M448.0 59.0L448.5 57.8L449.0 59.1L449.5 58.2L450.0 59.3L450.5 58.1L451.0 59.4L451.5 58.3L452.0 59.3L452.4 58.6M457.1 59.7L457.5 59.1L458.0 60.1L458.5 59.2L459.0 60.1L459.5 59.1L460.0 60.4L460.5 59.4L461.0 60.5L461.5 59.3M466.2 60.6L466.5 59.8L467.0 61.0L467.5 59.9L468.0 61.1L468.5 59.9L469.0 61.1L469.5 60.3L470.0 61.2L470.5 60.3L470.6 60.4M475.3 61.1L475.5 60.6L476.0 61.5L476.5 60.6L477.0 61.7L477.5 60.8L478.0 61.8L478.5 60.8L479.0 61.8L479.5 61.0L479.7 61.4M484.4 61.6L484.5 61.3L485.0 62.2L485.5 61.3L486.0 62.5L486.5 61.3L487.0 62.4L487.5 61.6L488.0 62.6L488.5 61.5L488.8 62.0M493.4 62.0L493.5 61.9L494.0 62.9L494.5 62.1L495.0 63.1L495.5 62.1L496.0 63.0L496.5 62.2L497.0 63.2L497.5 62.3L497.9 63.0M502.5 62.7L503.0 63.7L503.5 62.7L504.0 63.6L504.5 62.7L505.0 63.8L505.5 62.8L506.0 63.7L506.5 63.0L507.0 63.8M511.6 63.6L512.0 64.2L512.5 63.3L513.0 64.3L513.5 63.4L514.0 64.4L514.5 63.6L515.0 64.5L515.5 63.7L516.0 64.6L516.1 64.5M520.7 64.3L521.0 64.8L521.5 63.9L522.0 64.9L522.5 64.0L523.0 65.1L523.5 64.2L524.0 65.1L524.5 64.1L525.0 65.2L525.2 64.9M529.8 65.3L530.0 65.6L530.5 64.8L531.0 65.6L531.5 64.8L532.0 65.8L532.5 64.8L533.0 65.7L533.5 64.9L534.0 65.7L534.2 65.3M538.9 66.0L539.0 66.2L539.5 65.4L540.0 66.3L540.5 65.4L541.0 66.3L541.5 65.6L542.0 66.3L542.5 65.6L543.0 66.5L543.3 66.0M548.0 66.8L548.5 66.1L549.0 66.8L549.5 66.2L550.0 67.0L550.5 66.2L551.0 67.1L551.5 66.3L552.0 67.2L552.4 66.5M557.1 67.4L557.5 66.8L558.0 67.7L558.5 66.8L559.0 67.7L559.5 67.0L560.0 67.7L560.5 66.9L561.0 67.9L561.5 67.2L561.5 67.3M566.2 68.0L566.5 67.5L567.0 68.4L567.5 67.7L568.0 68.6L568.5 67.7L569.0 68.7L569.5 68.0L570.0 68.6L570.5 68.1L570.6 68.2M575.3 68.7L575.5 68.5L576.0 69.1L576.5 68.6L577.0 69.2L577.5 68.8L578.0 69.4L578.5 68.8L579.0 69.5L579.5 68.8L579.7 69.1M584.3 69.6L584.5 69.5L585.0 70.1L585.5 69.6L586.0 70.2L586.5 69.7L587.0 70.2L587.5 69.7L588.0 70.4L588.5 69.8L588.8 70.1M593.4 70.5L593.5 70.4L594.0 70.9L594.5 70.4L595.0 71.0L595.5 70.6L596.0 71.1L596.5 70.7L597.0 71.2L597.5 70.8L597.8 71.1M602.5 71.4L602.5 71.4L603.0 71.8L603.5 71.5L604.0 71.9L604.5 71.6L605.0 72.0L605.5 71.6L606.0 72.1L606.5 71.8L606.9 72.1M611.6 72.4L612.0 72.7L612.5 72.4L613.0 72.8L613.5 72.6L614.0 72.8L614.5 72.6L615.0 73.0L615.5 72.7L616.0 73.0M620.6 73.4L621.0 73.6L621.5 73.4L622.0 73.7L622.5 73.5L623.0 73.8L623.5 73.6L624.0 73.8L624.5 73.7L625.0 74.0L625.0 73.9M629.7 74.3L630.0 74.4L630.5 74.4L631.0 74.5L631.5 74.5L632.0 74.6L632.5 74.6L633.0 74.7L633.5 74.7L634.0 74.8L634.1 74.8M638.8 75.3L639.0 75.3L639.5 75.4L640.0 75.4L641.0 75.5L642.0 75.6L643.0 75.8L643.2 75.8M647.8 76.3L648.0 76.3L649.0 76.4L650.0 76.5L651.0 76.6L652.0 76.7L652.3 76.8M656.9 77.3L657.0 77.3L658.0 77.4L659.0 77.5L660.0 77.6L661.0 77.7L661.3 77.7M666.0 78.3L666.0 78.3L667.0 78.4L668.0 78.5L669.0 78.6L670.0 78.7L670.4 78.8M675.0 79.3L676.0 79.4L677.0 79.5L678.0 79.7L679.0 79.8L679.4 79.8M684.1 80.4L685.0 80.5L686.0 80.6L687.0 80.7L688.0 80.8L688.5 80.9M693.2 81.4L694.0 81.5L695.0 81.6L696.0 81.7L697.0 81.9L697.6 81.9M702.2 82.5L703.0 82.5L704.0 82.6L705.0 82.8L706.0 82.9L706.6 82.9M711.3 83.4L712.0 83.5L713.0 83.6L714.0 83.7L715.0 83.8L715.7 83.9M720.4 84.4L721.0 84.5L722.0 84.6L723.0 84.7L724.0 84.8L724.8 84.9M729.4 85.4L730.0 85.5L731.0 85.6L732.0 85.7L733.0 85.8L733.8 85.9M738.5 86.4L739.0 86.4L740.0 86.5L741.0 86.7L742.0 86.8L742.9 86.9M747.6 87.4L748.0 87.5L749.0 87.6L750.0 87.7L751.0 87.8L752.0 87.9M756.6 88.5L757.0 88.5L758.0 88.6L759.0 88.8L760.0 88.9L761.0 89.0L761.0 89.0M765.7 89.6L766.0 89.7L767.0 89.8L768.0 89.9L769.0 90.1L770.0 90.2L770.0 90.2M774.7 90.9L775.0 90.9L776.0 91.0L777.0 91.2L778.0 91.3L779.0 91.5L779.1 91.5M783.7 92.2L784.0 92.2L785.0 92.3L786.0 92.5L787.0 92.6L788.0 92.8L788.1 92.8M792.7 93.5L793.0 93.5L794.0 93.7L795.0 93.8L796.0 94.0L797.0 94.1L797.1 94.2M801.8 94.9L802.0 94.9L803.0 95.1L804.0 95.2L805.0 95.4L806.0 95.5L806.1 95.6M810.8 96.3L811.0 96.4L812.0 96.5L813.0 96.7L814.0 96.9L815.0 97.0L815.1 97.0M819.8 97.8L820.0 97.9L821.0 98.0L822.0 98.2L823.0 98.4L824.0 98.5L824.1 98.6M828.7 99.3L829.0 99.4L830.0 99.6L831.0 99.7L832.0 99.9L833.0 100.1L833.1 100.1M837.7 100.8L838.0 100.9L839.0 101.0L840.0 101.2L841.0 101.4L842.0 101.5L842.1 101.5M846.7 102.3L847.0 102.3L848.0 102.5L849.0 102.6L850.0 102.8L851.0 102.9L851.1 103.0M855.8 103.7L856.0 103.7L857.0 103.9L858.0 104.0L859.0 104.2L860.0 104.3L860.1 104.3M864.8 105.0L865.0 105.1L866.0 105.2L867.0 105.4L868.0 105.5L869.0 105.7L869.2 105.7M873.8 106.4L874.0 106.4L875.0 106.6L876.0 106.7L877.0 106.9L878.0 107.0L878.2 107.0M882.8 107.7L883.0 107.7L884.0 107.9L885.0 108.0L886.0 108.2L887.0 108.3L887.2 108.4M891.8 109.0L892.0 109.1L893.0 109.2L894.0 109.4L895.0 109.5L896.0 109.7L896.2 109.7M900.9 110.4L901.0 110.4L902.0 110.5L903.0 110.7L904.0 110.8L905.0 111.0L905.3 111.0M909.9 111.7L910.0 111.7L911.0 111.9L912.0 112.0L913.0 112.2L914.0 112.3L914.3 112.4M918.9 113.1L919.0 113.1L920.0 113.2L921.0 113.4L922.0 113.6L923.0 113.7L923.3 113.7M927.9 114.5L928.0 114.5L929.0 114.6L930.0 114.8L931.0 115.0L932.0 115.1L932.3 115.2M936.9 115.9L937.0 115.9L938.0 116.1L939.0 116.2L940.0 116.4L941.0 116.6L941.3 116.6M945.9 117.4L946.0 117.4L947.0 117.6L948.0 117.7L949.0 117.9L950.0 118.1L950.3 118.1M954.9 118.9L955.0 118.9L956.0 119.1L957.0 119.3L958.0 119.4L959.0 119.6L959.3 119.7M963.9 120.5L964.0 120.5L965.0 120.7L966.0 120.9L967.0 121.1L968.0 121.3L968.2 121.3M972.9 122.2L973.0 122.3L974.0 122.5L975.0 122.7L976.0 122.9L977.0 123.1L977.2 123.1M981.8 124.0L982.0 124.1L983.0 124.3L984.0 124.5L985.0 124.7L986.0 124.9L986.1 124.9M990.7 125.9L991.0 126.0L992.0 126.2L993.0 126.4L994.0 126.6L995.0 126.8L995.1 126.8M999.6 127.8L1000.0 127.8L1001.0 128.1L1002.0 128.3L1003.0 128.5L1004.0 128.7M1008.6 129.6L1009.0 129.7L1010.0 129.9L1011.0 130.1L1012.0 130.3L1012.9 130.5M1017.5 131.4L1018.0 131.5L1019.0 131.7L1020.0 131.9L1021.0 132.1L1021.9 132.3M1026.5 133.1L1027.0 133.2L1028.0 133.4L1029.0 133.6L1030.0 133.7L1030.8 133.9M1035.5 134.7L1036.0 134.8L1037.0 134.9L1038.0 135.1L1039.0 135.3L1039.8 135.4M1044.4 136.2L1045.0 136.3L1046.0 136.5L1047.0 136.6L1048.0 136.8L1048.8 137.0M1053.4 137.8L1054.0 137.9L1055.0 138.1L1056.0 138.2L1057.0 138.4L1057.8 138.6M1062.4 139.4L1063.0 139.6L1064.0 139.8L1065.0 140.0L1066.0 140.2L1066.7 140.3M1071.3 141.3L1072.0 141.4L1073.0 141.7L1074.0 141.9L1075.0 142.1L1075.7 142.3M1080.3 143.3L1081.0 143.4L1082.0 143.7L1083.0 143.9L1084.0 144.1L1084.7 144.3M1089.3 145.4L1090.0 145.5L1091.0 145.8L1092.0 146.0L1093.0 146.3L1093.8 146.5M1098.5 147.8L1099.0 147.9L1100.0 148.2L1101.0 148.5L1102.0 148.8L1102.9 149.1M1107.5 150.7L1108.0 150.8L1109.0 151.2L1110.0 151.6L1111.0 151.9L1111.9 152.3M1116.3 154.2L1117.0 154.6L1118.0 155.1L1119.0 155.7L1120.0 156.3L1120.4 156.5M1124.4 159.2L1125.0 159.6L1126.0 160.3L1127.0 161.1L1128.0 161.8L1128.2 161.9M1132.1 164.9L1133.0 165.6L1134.0 166.4L1135.0 167.2L1135.7 167.8M1139.4 171.0L1140.0 171.5L1141.0 172.4L1142.0 173.4L1142.8 174.1M1146.3 177.6L1147.0 178.3L1148.0 179.3L1149.0 180.3L1149.5 180.9M1152.9 184.4L1153.0 184.4L1154.0 185.5L1155.0 186.6L1156.0 187.7L1156.1 187.8M1159.3 191.5L1160.0 192.3L1161.0 193.6L1162.0 194.8L1162.2 195.1M1165.1 199.0L1166.0 200.3L1167.0 201.8L1167.7 202.9M1170.5 206.9L1171.0 207.8L1172.0 209.2L1173.0 210.7L1173.0 210.8M1175.8 214.9L1176.0 215.2L1177.0 216.7L1178.0 218.2L1178.4 218.7M1180.9 222.9L1181.0 223.0L1182.0 224.7L1183.0 226.4L1183.3 226.9M1185.6 231.2L1186.0 232.0L1187.0 234.0L1187.7 235.4M1189.9 239.8L1190.0 240.0L1191.0 242.0L1192.0 244.0M1194.2 248.4L1195.0 250.1L1196.0 252.2L1196.2 252.6M1198.4 257.1L1199.0 258.4L1200.0 260.5L1200.4 261.3M1202.5 265.8L1203.0 266.9L1204.0 269.0L1204.5 270.1M1206.6 274.6L1207.0 275.4L1208.0 277.5L1208.6 278.8M1210.8 283.3L1211.0 283.8L1212.0 285.8L1212.8 287.6M1215.0 292.0L1215.0 292.1L1216.0 294.1L1217.0 296.2L1217.0 296.3M1219.2 300.8L1220.0 302.5L1221.0 304.7L1221.2 305.0M1223.2 309.6L1224.0 311.3L1225.0 313.6L1225.1 313.9M1227.1 318.4L1228.0 320.5L1229.0 322.8M1231.0 327.3L1232.0 329.4L1233.0 331.5L1233.0 331.5M1235.3 336.0L1236.0 337.2L1237.0 339.0L1237.6 340.1M1240.1 344.4L1241.0 346.0L1242.0 347.6L1242.5 348.4M1245.3 352.5L1246.0 353.5L1247.0 354.8L1248.0 356.0L1248.2 356.2M1251.5 359.9L1252.0 360.4L1253.0 361.4L1254.0 362.4L1254.9 363.2M1258.7 366.4L1259.0 366.6L1260.0 367.2L1261.0 367.8L1262.0 368.3L1262.8 368.7"/>
<path id="c5" stroke="#f00" d="M175.2 49.9L175.5 31.9L175.9 18.5L176.2 44.5L176.5 23.8L176.8 57.1L177.1 31.9L177.4 61.6L177.7 37.3L177.9 63.9L178.2 41.8L178.5 56.6L178.8 41.3L179.0 55.0L179.4 43.7L179.9 53.7L180.3 43.5L180.8 53.9L181.2 43.3L181.7 53.9L182.1 43.8L182.6 53.5L183.0 43.9L183.5 54.6L183.9 44.0L184.4 54.2L184.8 43.2L185.3 54.2L185.7 44.2L186.2 53.2L186.6 44.6L187.1 53.0L187.5 44.4L188.0 54.2L188.4 44.6L188.9 53.1L189.3 45.2L189.8 52.1L190.2 45.6L190.5 50.6L191.0 45.9L191.5 50.6L192.0 46.2L192.5 51.2L193.0 45.6L193.5 51.2L194.0 46.0L194.5 50.9L195.0 45.8L195.5 50.8L196.0 45.9L196.5 51.0L197.0 45.8L197.5 51.0L198.0 46.5L198.5 50.9L199.0 46.4L199.5 50.9L200.0 45.7L200.5 50.6L201.0 46.5L201.5 51.1L202.0 46.5L202.5 50.8L203.0 46.3L203.5 50.9L204.0 46.2L204.5 51.2L205.0 46.4L205.5 51.1L206.0 45.8L206.5 50.2L207.0 46.5L207.5 50.1L208.0 45.6L208.5 51.0L209.0 45.6L209.5 50.7L210.0 45.5L210.5 50.8L211.0 46.2L211.5 50.2L212.0 46.6L212.5 51.0L213.0 46.3L213.5 50.1L214.0 46.3L214.5 51.0L215.0 45.7L215.5 51.2L216.0 45.8L216.5 50.8L217.0 45.6L217.5 51.3L218.0 46.3L218.5 50.5L219.0 45.8L219.5 50.2L220.0 45.8L220.5 50.4L221.0 46.1L221.5 50.3L222.0 46.7L222.5 50.6L223.0 46.4L223.5 50.4L224.0 45.9L224.5 51.3L225.0 46.6L225.5 51.2L226.0 45.8L226.5 50.6L227.0 46.2L227.5 50.6L228.0 46.1L228.5 50.3L229.0 46.1L229.5 50.5L230.0 46.8L230.5 51.5L231.0 46.0L231.5 51.4L232.0 47.0L232.5 51.0L233.0 46.2L233.5 51.0L234.0 46.4L234.5 51.4L235.0 46.8L235.5 51.2L236.0 47.1L236.5 51.3L237.0 46.1L237.5 50.9L238.0 46.4L238.5 51.0L239.0 47.2L239.5 50.8L240.0 47.1L240.5 51.1L241.0 46.4L241.5 50.7L242.0 47.1L242.5 51.6L243.0 46.3L243.5 51.4L244.0 47.1L244.5 51.2L245.0 46.9L245.5 50.9L246.0 46.6L246.5 51.2L247.0 47.3L247.5 50.9L248.0 46.7L248.5 51.7L249.0 46.8L249.5 51.7L250.0 46.8L250.5 51.0L251.0 47.2L251.5 51.7L252.0 47.8L252.5 51.4L253.0 47.4L253.5 52.0L254.0 47.6L254.5 51.2L255.0 47.5L255.5 52.0L256.0 48.0L256.5 51.5L257.0 47.4L257.5 51.6L258.0 47.9L258.5 52.3L259.0 48.0L259.5 51.8L260.0 48.3L260.5 51.8L261.0 48.0L261.5 52.2L262.0 47.6L262.5 51.6L263.0 47.6L263.5 51.7L264.0 47.8L264.5 52.5L265.0 48.0L265.5 52.5L266.0 48.4L266.5 52.2L267.0 48.9L267.5 52.5L268.0 48.3L268.5 52.4L269.0 49.1L269.5 52.7L270.0 49.1L270.5 53.0L271.0 49.1L271.5 52.9L272.0 48.8L272.5 53.2L273.0 48.9L273.5 53.3L274.0 49.7L274.5 53.3L275.0 49.5L275.5 53.2L276.0 49.9L276.5 53.0L277.0 50.3L277.5 53.7L278.0 50.3L278.5 53.8L279.0 50.5L279.5 53.7L280.0 49.9L280.5 53.5L281.0 49.8L281.5 54.0L282.0 50.2L282.5 53.0L283.0 50.1L283.5 52.8L284.0 49.7L284.5 53.2L285.0 48.9L285.5 52.4L286.0 48.8L286.5 52.4L287.0 49.1L287.5 52.0L288.0 48.5L288.5 51.4L289.0 48.5L289.5 51.4L290.0 47.5L290.5 50.7L291.0 47.6L291.5 50.3L292.0 47.4L292.5 50.6L293.0 46.8L293.5 49.9L294.0 47.0L294.5 50.1L295.0 46.2L295.5 49.6L296.0 46.3L296.5 49.8L297.0 46.5L297.5 49.6L298.0 46.9L298.5 49.3L299.0 46.8L299.5 49.6L300.0 46.7L300.5 49.3L301.0 46.6L301.5 49.4L302.0 46.9L302.5 49.9L303.0 46.5L303.5 50.1L304.0 47.0L304.5 50.1L305.0 47.2L305.5 49.7L306.0 47.0L306.5 49.7L307.0 47.2L307.5 49.7L308.0 47.4L308.5 50.2L309.0 47.2L309.5 49.9L310.0 47.3L310.5 50.4L311.0 47.0L311.5 50.2L312.0 47.0L312.5 50.1L313.0 47.5L313.5 50.1L314.0 47.1L314.5 50.6L315.0 47.1L315.5 50.5L316.0 47.5L316.5 50.4L317.0 47.7L317.5 50.5L318.0 48.0L318.5 50.5L319.0 47.7L319.5 50.6L320.0 47.6L320.5 50.7L321.0 48.1L321.5 51.0L322.0 48.0L322.5 51.2L323.0 48.3L323.5 51.1L324.0 48.4L324.5 51.3L325.0 48.3L325.5 51.1L326.0 48.5L326.5 51.4L327.0 48.6L327.5 51.2L328.0 48.6L328.5 51.7L329.0 49.0L329.5 51.7L330.0 49.0L330.5 51.8L331.0 48.6L331.5 51.7L332.0 49.2L332.5 51.7L333.0 49.1L333.5 52.1L334.0 49.0L334.5 51.8L335.0 49.2L335.5 51.9L336.0 49.5L336.5 52.0L337.0 49.2L337.5 52.0L338.0 49.5L338.5 52.4L339.0 49.8L339.5 52.1L340.0 49.7L340.5 52.4L341.0 49.6L341.5 52.2L342.0 49.7L342.5 52.2L343.0 49.5L343.5 52.7L344.0 49.7L344.5 52.3L345.0 50.0L345.5 52.6L346.0 49.6L346.5 52.4L347.0 49.7L347.5 52.4L348.0 50.0L348.5 52.5L349.0 50.2L349.5 52.6L350.0 50.1L350.5 52.9L351.0 50.3L351.5 52.9L352.0 50.1L352.5 53.0L353.0 50.1L353.5 52.9L354.0 50.2L354.5 52.7L355.0 50.6L355.5 53.2L356.0 50.2L356.5 52.7L357.0 50.6L357.5 52.8L358.0 50.5L358.5 53.1L359.0 50.5L359.5 53.2L360.0 50.7L360.5 53.1L361.0 50.9L361.5 53.0L362.0 50.5L362.5 52.9L363.0 51.0L363.5 53.6L364.0 50.8L364.5 53.6L365.0 50.9L365.5 53.5L366.0 50.9L366.5 53.2L367.0 51.0L367.5 53.5L368.0 51.2L368.5 53.6L369.0 51.3L369.5 53.3L370.0 51.0L370.5 53.4L371.0 51.4L371.5 53.4L372.0 51.2L372.5 53.5L373.0 51.4L373.5 53.5L374.0 51.4L374.5 53.7L375.0 51.6L375.5 53.9L376.0 51.5L376.5 53.7L377.0 51.2L377.5 53.7L378.0 51.4L378.5 53.8L379.0 51.5L379.5 54.2L380.0 51.8L380.5 54.3L381.0 51.8L381.5 54.1L382.0 52.0L382.5 54.3L383.0 51.6L383.5 54.3L384.0 51.8L384.5 54.4L385.0 52.0L385.5 54.4L386.0 51.7L386.5 54.3L387.0 52.2L387.5 54.4L388.0 52.0L388.5 54.5L389.0 51.7L389.5 54.1L390.0 51.9L390.5 54.5L391.0 52.0L391.5 54.1L392.0 52.0L392.5 54.2L393.0 51.9L393.5 54.5L394.0 52.4L394.5 54.5L395.0 52.1L395.5 54.5L396.0 52.2L396.5 54.3L397.0 52.2L397.5 54.5L398.0 52.5L398.5 54.4L399.0 52.1L399.5 54.5L400.0 52.4L400.5 54.3L401.0 52.4L401.5 54.7L402.0 52.4L402.5 54.8L403.0 52.5L403.5 54.4L404.0 52.4L404.5 54.8L405.0 52.1L405.5 54.5L406.0 52.6L406.5 54.5L407.0 52.5L407.5 54.8L408.0 52.1L408.5 54.7L409.0 52.3L409.5 54.7L410.0 52.3L410.5 54.8L411.0 52.4L411.5 54.7L412.0 52.6L412.5 54.7L413.0 52.3L413.5 54.5L414.0 52.2L414.5 54.4L415.0 52.5L415.5 54.8L416.0 52.3L416.5 54.5L417.0 52.6L417.5 54.6L418.0 52.8L418.5 54.9L419.0 52.7L419.5 54.8L420.0 52.9L420.5 54.6L421.0 52.5L421.5 54.9L422.0 52.5L422.5 55.0L423.0 52.8L423.5 55.1L424.0 52.9L424.5 54.8L425.0 53.0L425.5 55.0L426.0 53.0L426.5 54.9L427.0 53.1L427.5 55.0L428.0 53.3L428.5 55.4L429.0 53.2L429.5 55.5L430.0 53.4L430.5 55.1L431.0 53.4L431.5 55.6L432.0 53.7L432.5 55.8L433.0 53.7L433.5 55.7L434.0 53.7L434.5 55.9L435.0 54.2L435.5 56.3L436.0 54.1L436.5 56.3L437.0 54.4L437.5 56.6L438.0 54.5L438.5 56.7L439.0 55.0L439.5 56.8L440.0 55.0L440.5 57.3L441.0 55.4L441.5 57.6L442.0 55.7L442.5 57.5L443.0 55.6L443.5 57.6L444.0 55.9L444.5 58.1L445.0 56.3L445.5 58.1L446.0 56.3L446.5 58.6L447.0 56.7L447.5 58.7L448.0 57.2L448.5 59.0L449.0 57.5L449.5 59.2L450.0 57.6L450.5 59.7L451.0 58.0L451.5 59.9L452.0 58.5L452.5 60.2L453.0 58.6L453.5 60.8L454.0 59.1L454.5 61.1L455.0 59.3L455.5 61.5L456.0 59.5L456.5 61.6L457.0 59.9L457.5 61.9L458.0 60.3L458.5 62.2L459.0 60.5L459.5 62.5L460.0 60.6L460.5 62.8L461.0 60.9L461.5 62.9L462.0 61.2L462.5 63.1L463.0 61.1L463.5 63.0L464.0 61.5L464.5 63.5L465.0 61.8L465.5 63.4L466.0 61.6L466.5 63.6L467.0 61.7L467.5 63.4L468.0 62.0L468.5 63.7L469.0 61.9L469.5 63.6L470.0 62.2L470.5 63.7L471.0 62.1L471.5 64.0L472.0 62.2L472.5 63.8L473.0 62.0L473.5 63.9L474.0 62.4L474.5 64.2L475.0 62.2L475.5 64.1L476.0 62.5L476.5 64.1L477.0 62.7L477.5 64.0L478.0 62.7L478.5 64.3L479.0 62.7L479.5 64.1L480.0 62.6L480.5 64.3L481.0 62.7L481.5 64.6L482.0 62.7L482.5 64.4L483.0 62.7L483.5 64.5L484.0 62.8L484.5 64.5L485.0 63.0L485.5 64.6L486.0 63.1L486.5 64.9L487.0 62.9L487.5 64.7L488.0 63.1L488.5 64.8L489.0 63.2L489.5 64.9L490.0 63.3L490.5 64.8L491.0 63.3L491.5 65.1L492.0 63.3L492.5 65.0L493.0 63.5L493.5 64.9L494.0 63.3L494.5 65.1L495.0 63.5L495.5 65.0L496.0 63.8L496.5 65.4L497.0 63.5L497.5 65.3L498.0 63.7L498.5 65.5L499.0 63.9L499.5 65.3L500.0 63.9L500.5 65.6L501.0 64.1L501.5 65.6L502.0 64.2L502.5 65.4L503.0 64.1L503.5 65.7L504.0 64.2L504.5 65.6L505.0 64.3L505.5 65.9L506.0 64.1L506.5 66.0L507.0 64.3L507.5 66.0L508.0 64.5L508.5 65.9L509.0 64.3L509.5 66.2L510.0 64.5L510.5 66.1L511.0 64.4L511.5 66.1L512.0 64.8L512.5 66.1L513.0 64.8L513.5 66.2L514.0 64.9L514.5 66.5L515.0 65.0L515.5 66.6L516.0 65.1L516.5 66.6L517.0 65.1L517.5 66.5L518.0 65.0L518.5 66.6L519.0 65.2L519.5 66.8L520.0 65.5L520.5 66.8L521.0 65.6L521.5 67.0L522.0 65.4L522.5 67.1L523.0 65.7L523.5 67.3L524.0 65.7L524.5 67.1L525.0 65.8L525.5 67.4L526.0 65.9L526.5 67.6L527.0 66.0L527.5 67.6L528.0 66.1L528.5 67.4L529.0 65.9L529.5 67.7L530.0 66.2L530.5 67.7L531.0 66.3L531.5 67.9L532.0 66.3L532.5 68.0L533.0 66.5L533.5 67.9L534.0 66.6L534.5 68.1L535.0 66.6L535.5 68.0L536.0 66.7L536.5 68.1L537.0 66.7L537.5 68.3L538.0 66.9L538.5 68.3L539.0 66.9L539.5 68.6L540.0 67.2L540.5 68.4L541.0 67.2L541.5 68.7L542.0 67.2L542.5 68.7L543.0 67.5L543.5 68.8L544.0 67.3L544.5 68.9L545.0 67.6L545.5 69.0L546.0 67.6L546.5 69.2L547.0 67.7L547.5 69.1L548.0 67.9L548.5 69.1L549.0 68.0L549.5 69.5L550.0 68.1L550.5 69.4L551.0 68.2L551.5 69.5L552.0 68.1L552.5 69.8L553.0 68.3L553.5 69.9L554.0 68.5L554.5 69.9L555.0 68.6L555.5 69.8L556.0 68.6L556.5 70.0L557.0 68.6L557.5 70.2L558.0 68.6L558.5 70.2L559.0 68.9L559.5 70.1L560.0 69.0L560.5 70.2L561.0 69.1L561.5 70.5L562.0 69.2L562.5 70.4L563.0 69.1L563.5 70.4L564.0 69.3L564.5 70.7L565.0 69.3L565.5 70.6L566.0 69.5L566.5 70.9L567.0 69.6L567.5 70.9L568.0 69.7L568.5 70.9L569.0 69.8L569.5 71.1L570.0 69.9L570.5 71.2L571.0 70.1L571.5 71.1L572.0 70.0L572.5 71.4L573.0 70.3L573.5 71.4L574.0 70.2L574.5 71.4L575.0 70.3L575.5 71.4L576.0 70.5L576.5 71.7L577.0 70.5L577.5 71.7L578.0 70.6L578.5 71.7L579.0 70.6L579.5 71.8L580.0 70.9L580.5 71.9L581.0 70.9L581.5 71.9L582.0 71.0L582.5 72.0L583.0 71.2L583.5 72.1L584.0 71.1L584.5 72.2L585.0 71.2L585.5 72.3L586.0 71.4L586.5 72.5L587.0 71.6L587.5 72.5L588.0 71.6L588.5 72.7L589.0 71.8L589.5 72.8L590.0 71.8L590.5 72.9L591.0 71.9L591.5 72.8L592.0 72.1L592.5 73.0L593.0 72.1L593.5 73.0L594.0 72.3L594.5 73.2L595.0 72.4L595.5 73.2L596.0 72.4L596.5 73.3L597.0 72.7L597.5 73.3L598.0 72.6L598.5 73.5L599.0 72.9L599.5 73.6L600.0 72.9L600.5 73.7L601.0 73.1L601.5 73.8L602.0 73.1L602.5 74.0L603.0 73.4L603.5 74.0L604.0 73.4L604.5 74.1L605.0 73.5L605.5 74.3L606.0 73.6L606.5 74.3L607.0 73.8L607.5 74.4L608.0 74.0L608.5 74.5L609.0 74.0L609.5 74.7L610.0 74.2L610.5 74.8L611.0 74.3L611.5 74.9L612.0 74.4L612.5 75.0L613.0 74.5L613.5 75.2L614.0 74.8L614.5 75.3L615.0 74.8L615.5 75.3L616.0 75.0L616.5 75.4L617.0 75.1L617.5 75.6L618.0 75.2L618.5 75.7L619.0 75.4L619.5 75.8L620.0 75.5L620.5 76.0L621.0 75.6L621.5 76.1L622.0 75.8L622.5 76.2L623.0 76.0L623.5 76.3L624.0 76.1L624.5 76.4L625.0 76.2L625.5 76.6L626.0 76.4L626.5 76.7L627.0 76.5L627.5 76.8L628.0 76.7L628.5 76.9L629.0 76.8L629.5 77.1L630.0 76.9L630.5 77.2L631.0 77.1L631.5 77.3L632.0 77.2L632.5 77.4L633.0 77.4L633.5 77.6L634.0 77.5L634.5 77.7L635.0 77.7L635.5 77.8L636.0 77.8L636.5 77.9L637.0 78.0L637.5 78.1L638.0 78.1L638.5 78.2L639.0 78.2L639.5 78.3L640.0 78.4L640.5 78.5L642.5 78.7L644.5 79.0L646.5 79.3L648.5 79.5L650.5 79.8L652.5 80.1L654.5 80.3L656.5 80.6L658.5 80.8L660.5 81.1L662.5 81.3L664.5 81.5L666.5 81.8L668.5 82.0L670.5 82.2L672.5 82.5L674.5 82.7L676.5 82.9L678.5 83.1L680.5 83.3L682.5 83.6L684.5 83.8L686.5 84.0L688.5 84.3L690.5 84.5L692.5 84.7L694.5 85.0L696.5 85.2L698.5 85.5L700.5 85.8L702.5 86.0L704.5 86.3L706.5 86.6L708.5 86.9L710.5 87.2L712.5 87.5L714.5 87.8L716.5 88.1L718.5 88.4L720.5 88.7L722.5 89.0L724.5 89.3L726.5 89.7L728.5 90.0L730.5 90.3L732.5 90.6L734.5 91.0L736.5 91.3L738.5 91.6L740.5 92.0L742.5 92.3L744.5 92.6L746.5 93.0L748.5 93.3L750.5 93.6L752.5 94.0L754.5 94.3L756.5 94.6L758.5 95.0L760.5 95.3L762.5 95.6L764.5 95.9L766.5 96.3L768.5 96.6L770.5 96.9L772.5 97.2L774.5 97.6L776.5 97.9L778.5 98.2L780.5 98.5L782.5 98.9L784.5 99.2L786.5 99.5L788.5 99.9L790.5 100.2L792.5 100.5L794.5 100.9L796.5 101.2L798.5 101.5L800.5 101.9L802.5 102.2L804.5 102.5L806.5 102.9L808.5 103.2L810.5 103.5L812.5 103.9L814.5 104.2L816.5 104.5L818.5 104.9L820.5 105.2L822.5 105.6L824.5 105.9L826.5 106.3L828.5 106.6L830.5 106.9L832.5 107.3L834.5 107.6L836.5 108.0L838.5 108.3L840.5 108.7L842.5 109.0L844.5 109.4L846.5 109.7L848.5 110.1L850.5 110.4L852.5 110.8L854.5 111.2L856.5 111.5L858.5 111.9L860.5 112.2L862.5 112.6L864.5 112.9L866.5 113.3L868.5 113.7L870.5 114.0L872.5 114.4L874.5 114.7L876.5 115.1L878.5 115.5L880.5 115.8L882.5 116.2L884.5 116.6L886.5 116.9L888.5 117.3L890.5 117.7L892.5 118.0L894.5 118.4L896.5 118.8L898.5 119.1L900.5 119.5L902.5 119.9L904.5 120.3L906.5 120.6L908.5 121.0L910.5 121.4L912.5 121.7L914.5 122.1L916.5 122.5L918.5 122.9L920.5 123.2L922.5 123.6L924.5 124.0L926.5 124.4L928.5 124.8L930.5 125.1L932.5 125.5L934.5 125.9L936.5 126.3L938.5 126.7L940.5 127.0L942.5 127.4L944.5 127.8L946.5 128.2L948.5 128.6L950.5 129.0L952.5 129.3L954.5 129.7L956.5 130.1L958.5 130.5L960.5 130.9L962.5 131.3L964.5 131.7L966.5 132.1L968.5 132.5L970.5 132.9L972.5 133.2L974.5 133.6L976.5 134.0L978.5 134.4L980.5 134.8L982.5 135.2L984.5 135.6L986.5 136.0L988.5 136.4L990.5 136.8L992.5 137.2L994.5 137.7L996.5 138.1L998.5 138.5L1000.5 138.9L1002.5 139.3L1004.5 139.7L1006.5 140.1L1008.5 140.5L1010.5 140.9L1012.5 141.3L1014.5 141.8L1016.5 142.2L1018.5 142.6L1020.5 143.0L1022.5 143.4L1024.5 143.8L1026.5 144.3L1028.5 144.7L1030.5 145.1L1032.5 145.5L1034.5 145.9L1036.5 146.3L1038.5 146.8L1040.5 147.2L1042.5 147.6L1044.5 148.0L1046.5 148.5L1048.5 148.9L1050.5 149.4L1052.5 149.8L1054.5 150.2L1056.5 150.7L1058.5 151.1L1060.5 151.6L1062.5 152.1L1064.5 152.5L1066.5 153.0L1068.5 153.5L1070.5 153.9L1072.5 154.4L1074.5 154.9L1076.5 155.4L1078.5 155.9L1080.5 156.3L1082.5 156.8L1084.5 157.3L1086.5 157.8L1088.5 158.3L1090.5 158.9L1092.5 159.4L1094.5 159.9L1096.5 160.4L1098.5 160.9L1100.5 161.5L1102.5 162.0L1104.5 162.6L1106.5 163.1L1108.5 163.7L1110.5 164.2L1112.5 164.8L1114.5 165.4L1116.5 165.9L1118.5 166.5L1120.5 167.1L1122.5 167.7L1124.5 168.3L1126.5 168.9L1128.5 169.5L1130.5 170.1L1132.5 170.7L1134.5 171.4L1136.5 172.0L1138.5 172.6L1140.5 173.3L1142.5 173.9L1144.5 174.6L1146.5 175.2L1148.5 175.9L1150.5 176.6L1152.5 177.3L1154.5 178.0L1156.5 178.7L1158.5 179.4L1160.5 180.1L1162.5 180.8L1164.5 181.6L1166.5 182.3L1168.5 183.0L1170.5 183.8L1172.5 184.5L1174.5 185.3L1176.5 186.0L1178.5 186.8L1180.5 187.5L1182.5 188.3L1184.5 189.0L1186.5 189.8L1188.5 190.6L1190.5 191.4L1192.5 192.2L1194.5 192.9L1196.5 193.7L1198.5 194.5L1200.5 195.3L1202.5 196.1L1204.5 196.9L1206.5 197.6L1208.5 198.4L1210.5 199.1L1212.5 199.9L1214.5 200.6L1216.5 201.4L1218.5 202.1L1220.5 202.8L1222.5 203.4L1224.5 204.1L1226.5 204.7L1228.5 205.3L1230.5 205.9L1232.5 206.5L1234.5 207.1L1236.5 207.7L1238.5 208.2L1240.5 208.7L1242.5 209.2L1244.5 209.6L1246.5 210.0L1248.5 210.3L1250.5 210.6L1252.5 210.9L1254.5 211.2L1256.5 211.4L1258.5 211.7L1260.5 211.9L1262.5 212.1L1264.5 212.2L1266.4 212.3"/>
<path id="c6" stroke="#f00" d="M175.2 50.0L175.5 30.0L175.9 15.2L176.2 44.0L176.5 21.0L176.8 58.0L177.1 30.0L177.4 63.0L177.7 36.0L177.9 65.6L178.2 41.0L178.5 57.5L178.8 40.5L179.0 54.6L179.4 42.5L179.9 55.1L180.3 43.5L180.8 54.6L181.2 43.2L181.7 55.1L182.1 43.4L182.6 54.0L183.0 42.2L183.5 54.7L183.9 43.8L184.4 54.8L184.8 43.7L185.3 54.0L185.7 43.6L186.2 54.6L186.6 43.4L187.1 53.7L187.5 43.6L188.0 53.5L188.4 43.4L188.9 53.3L189.3 44.8L189.8 52.2L190.2 46.0M190.5 50.6L191.0 45.8L191.5 51.2L192.0 46.6L192.5 51.1L193.0 46.0L193.5 50.7L194.0 45.8L194.5 51.2L195.0 46.5L195.5 50.5L196.0 46.8L196.5 50.5L197.0 46.4L197.5 51.6L198.0 46.5L198.5 51.2L198.8 48.1M202.4 50.2L202.5 50.9L203.0 46.9L203.5 51.6L204.0 45.9L204.5 50.5L205.0 46.9L205.5 51.4L206.0 46.7L206.5 51.2L207.0 46.3L207.5 50.7L208.0 46.2L208.5 50.6L209.0 47.0L209.5 50.7L210.0 46.7L210.5 51.0L211.0 46.6L211.5 50.7L212.0 45.9L212.5 51.0L213.0 46.3L213.5 50.7L214.0 46.8L214.5 50.6L215.0 46.5L215.5 51.0L216.0 46.4L216.5 50.8L217.0 46.0L217.5 51.7L218.0 46.4L218.5 51.6L219.0 46.6L219.5 51.4L219.7 49.9M223.5 50.8L224.0 47.2L224.5 51.1L225.0 46.2L225.5 51.0L226.0 47.2L226.5 50.8L227.0 47.1L227.5 50.7L228.0 46.9L228.5 51.4L229.0 47.3L229.5 51.1L230.0 47.0L230.5 50.8L231.0 46.5L231.5 51.5L232.0 47.0L232.4 50.3M236.0 47.1L236.5 51.4L237.0 46.7L237.5 51.3L238.0 46.6L238.5 51.3L239.0 46.9L239.5 51.1L240.0 47.2L240.5 51.5L241.0 47.1L241.5 51.4L242.0 47.5L242.5 51.8L243.0 47.6L243.5 52.0L244.0 47.4L244.5 51.3L245.0 47.4L245.5 51.7L246.0 47.7L246.5 52.2L247.0 47.0L247.5 51.9L248.0 47.6L248.5 51.6L249.0 48.0L249.5 52.3L250.0 47.9L250.5 51.6L251.0 47.6L251.5 52.4L252.0 47.5L252.5 51.5L253.0 47.9L253.2 50.1M257.1 48.8L257.5 52.5L258.0 47.6L258.5 52.5L259.0 48.3L259.5 52.7L260.0 48.0L260.5 52.6L261.0 48.2L261.5 52.1L262.0 48.4L262.5 52.1L263.0 48.0L263.5 52.3L264.0 49.0L264.5 52.3L265.0 48.9L265.5 52.3L266.0 49.4M269.6 52.5L270.0 49.5L270.5 53.2L271.0 49.0L271.5 52.8L272.0 49.7L272.5 53.0L273.0 49.3L273.5 53.4L274.0 49.4L274.5 53.7L275.0 50.3L275.5 53.9L276.0 49.6L276.5 53.5L277.0 50.1L277.5 54.0L278.0 50.7L278.5 53.7L279.0 50.1L279.5 54.1L280.0 50.5L280.5 54.1L281.0 50.8L281.5 53.6L282.0 50.6L282.5 53.7L283.0 50.1L283.5 53.5L284.0 50.3L284.5 53.2L285.0 49.9L285.5 52.8L286.0 49.7L286.5 52.6L286.5 52.2M290.3 49.9L290.5 51.2L291.0 48.2L291.5 50.9L292.0 47.9L292.5 51.0L293.0 47.2L293.5 50.2L294.0 46.8L294.5 49.9L295.0 46.6L295.5 50.0L296.0 47.3L296.5 50.1L297.0 46.8L297.5 49.8L298.0 46.8L298.5 49.9L299.0 47.3M302.6 49.5L303.0 46.9L303.5 50.3L304.0 47.3L304.5 50.5L305.0 47.2L305.5 50.0L306.0 47.5L306.5 50.0L307.0 47.3L307.5 50.5L308.0 47.1L308.5 50.6L309.0 47.4L309.5 50.7L310.0 47.3L310.5 50.2L311.0 47.2L311.5 50.5L312.0 47.5L312.5 50.6L313.0 47.7L313.5 50.4L314.0 47.7L314.5 50.7L315.0 47.6L315.5 50.5L316.0 47.7L316.5 50.8L317.0 47.8L317.5 51.2L318.0 48.0L318.5 51.2L319.0 48.0L319.5 51.1L319.8 49.5M323.6 50.4L324.0 48.5L324.5 51.7L325.0 48.5L325.5 51.7L326.0 48.6L326.5 51.7L327.0 49.2L327.5 51.5L328.0 48.8L328.5 51.9L329.0 49.3L329.5 52.2L330.0 49.1L330.5 52.3L331.0 49.2L331.5 52.2L332.0 49.2L332.5 52.2M336.1 50.2L336.5 52.3L337.0 49.8L337.5 52.4L338.0 49.9L338.5 52.8L339.0 49.7L339.5 52.7L340.0 50.2L340.5 52.5L341.0 49.9L341.5 52.5L342.0 49.8L342.5 52.9L343.0 50.0L343.5 52.9L344.0 50.3L344.5 53.0L345.0 50.2L345.5 52.9L346.0 50.2L346.5 52.7L347.0 50.4L347.5 53.3L348.0 50.1L348.5 52.8L349.0 50.2L349.5 53.3L350.0 50.5L350.5 53.4L351.0 50.4L351.5 53.2L352.0 50.6L352.5 53.4L353.0 50.6L353.3 52.1M357.2 51.4L357.5 53.2L358.0 51.1L358.5 53.7L359.0 50.8L359.5 53.3L360.0 50.8L360.5 53.6L361.0 51.2L361.5 53.5L362.0 51.2L362.5 53.5L363.0 51.4L363.5 53.5L364.0 50.9L364.5 53.6L365.0 51.5L365.5 54.1L366.0 51.6L366.0 51.7M369.6 53.2L370.0 51.5L370.5 54.0L371.0 51.3L371.5 53.8L372.0 51.8L372.5 53.9L373.0 51.6L373.5 53.9L374.0 51.6L374.5 54.3L375.0 51.6L375.5 54.2L376.0 51.8L376.5 54.1L377.0 52.1L377.5 54.5L378.0 52.2L378.5 54.1L379.0 52.2L379.5 54.5L380.0 52.3L380.5 54.3L381.0 52.2L381.5 54.4L382.0 52.2L382.5 54.3L383.0 51.9L383.5 54.7L384.0 52.3L384.5 54.6L385.0 52.4L385.5 54.5L386.0 52.0L386.5 54.8L386.9 52.8M390.7 53.7L391.0 52.3L391.5 54.8L392.0 52.3L392.5 54.9L393.0 52.3L393.5 55.0L394.0 52.6L394.5 54.8L395.0 52.7L395.5 54.8L396.0 52.3L396.5 54.6L397.0 52.8L397.5 54.9L398.0 52.8L398.5 54.8L399.0 52.9L399.5 54.9L399.6 54.5M403.2 53.9L403.5 55.2L404.0 52.7L404.5 55.1L405.0 52.7L405.5 54.9L406.0 52.8L406.5 55.1L407.0 52.8L407.5 55.1L408.0 53.0L408.5 55.2L409.0 53.0L409.5 54.8L410.0 52.8L410.5 54.9L411.0 52.6L411.5 55.1L412.0 52.6L412.5 55.0L413.0 52.9L413.5 55.1L414.0 52.7L414.5 54.9L415.0 52.8L415.5 55.1L416.0 52.8L416.5 55.0L417.0 53.1L417.5 54.8L418.0 53.0L418.5 55.1L419.0 52.8L419.5 55.2L420.0 53.2L420.5 55.1M424.3 54.4L424.5 55.3L425.0 53.4L425.5 55.6L426.0 53.6L426.5 55.3L427.0 53.5L427.5 55.3L428.0 53.6L428.5 55.5L429.0 53.4L429.5 55.6L430.0 53.8L430.5 55.6L431.0 54.0L431.5 55.9L432.0 53.8L432.5 55.8L433.0 54.3L433.1 54.9M436.7 56.1L437.0 54.9L437.5 57.1L438.0 55.2L438.5 57.2L439.0 55.5L439.5 57.2L440.0 55.6L440.5 57.5L441.0 55.7L441.5 57.9L442.0 56.2L442.5 58.0L443.0 56.1L443.5 58.1L444.0 56.4L444.5 58.4L445.0 56.6L445.5 58.7L446.0 57.1L446.5 59.0L447.0 57.1L447.5 59.4L448.0 57.6L448.5 59.5L449.0 58.0L449.5 60.0L450.0 58.2L450.5 60.2L451.0 58.7L451.5 60.9L452.0 59.5L452.5 61.5L453.0 59.7L453.1 60.2M456.7 62.4L457.0 61.3L457.5 63.3L458.0 62.1L458.5 63.6L459.0 62.3L459.5 64.1L460.0 62.6L460.5 64.5L461.0 63.0L461.5 65.0L462.0 63.0L462.5 65.2L463.0 63.5L463.5 65.3L464.0 63.5L464.5 65.4L465.0 63.7L465.2 64.5M468.8 64.9L469.0 64.2L469.5 65.9L470.0 64.2L470.5 66.3L471.0 64.6L471.5 66.0L472.0 64.3L472.5 66.1L473.0 64.6L473.5 66.2L474.0 64.9L474.5 66.3L475.0 64.8L475.5 66.4L476.0 64.7L476.5 66.7L477.0 64.7L477.5 66.7L478.0 64.9L478.5 66.8L479.0 65.2L479.5 66.8L480.0 65.4L480.5 66.9L481.0 65.4L481.5 66.8L482.0 65.4L482.5 67.0L483.0 65.3L483.5 67.2L484.0 65.6L484.5 67.2L485.0 65.5L485.5 67.5L486.0 65.9M489.8 66.6L490.0 66.2L490.5 67.9L491.0 66.2L491.5 67.9L492.0 66.2L492.5 68.1L493.0 66.4L493.5 67.9L494.0 66.4L494.5 68.0L495.0 66.5L495.5 68.3L496.0 66.6L496.5 68.3L497.0 66.6L497.5 68.4L498.0 66.6L498.5 68.3L498.7 67.8M502.3 68.0L502.5 68.8L503.0 67.0L503.5 68.8L504.0 67.5L504.5 68.9L505.0 67.3L505.5 69.1L506.0 67.4L506.5 69.1L507.0 67.5L507.5 69.2L508.0 67.6L508.5 69.2L509.0 67.7L509.5 69.5L510.0 67.8L510.5 69.6L511.0 67.9L511.5 69.8L512.0 68.1L512.5 69.9L513.0 68.4L513.5 69.9L514.0 68.3L514.5 70.0L515.0 68.4L515.5 69.9L516.0 68.6L516.5 70.2L517.0 68.7L517.5 70.5L518.0 68.7L518.5 70.6L519.0 68.8L519.5 70.2M523.3 70.4L523.5 70.9L524.0 69.6L524.5 70.9L525.0 69.7L525.5 71.3L526.0 69.8L526.5 71.2L527.0 69.9L527.5 71.3L528.0 69.8L528.5 71.6L529.0 70.1L529.5 71.7L530.0 70.2L530.5 71.7L531.0 70.4L531.5 71.9L532.0 70.3L532.2 70.9M535.8 71.4L536.0 70.9L536.5 72.2L537.0 71.0L537.5 72.5L538.0 71.1L538.5 72.8L539.0 71.2L539.5 72.9L540.0 71.5L540.5 72.8L541.0 71.6L541.5 73.0L542.0 71.6L542.5 73.2L543.0 71.8L543.5 73.3L544.0 71.8L544.5 73.4L545.0 72.2L545.5 73.4L546.0 72.2L546.5 73.7L547.0 72.4L547.5 73.6L548.0 72.5L548.5 73.8L549.0 72.4L549.5 74.1L550.0 72.7L550.5 74.2L551.0 72.8L551.5 74.3L552.0 72.8L552.5 74.4L553.0 73.0L553.0 73.1M556.9 73.7L557.0 73.4L557.5 75.1L558.0 73.7L558.5 75.0L559.0 73.9L559.5 75.4L560.0 73.9L560.5 75.4L561.0 74.0L561.5 75.5L562.0 74.3L562.5 75.5L563.0 74.2L563.5 75.7L564.0 74.4L564.5 75.7L565.0 74.6L565.5 76.0L565.8 75.3M569.4 76.3L569.5 76.5L570.0 75.2L570.5 76.4L571.0 75.4L571.5 76.7L572.0 75.5L572.5 76.9L573.0 75.8L573.5 76.8L574.0 75.9L574.5 76.9L575.0 75.9L575.5 77.1L576.0 76.2L576.5 77.2L577.0 76.4L577.5 77.3L578.0 76.4L578.5 77.6L579.0 76.4L579.5 77.6L580.0 76.7L580.5 77.9L581.0 76.7L581.5 78.0L582.0 77.0L582.5 77.9L583.0 77.2L583.5 78.1L584.0 77.2L584.5 78.3L585.0 77.5L585.5 78.5L586.0 77.6L586.5 78.5L586.8 78.1M590.6 78.9L591.0 78.3L591.5 79.1L592.0 78.3L592.5 79.3L593.0 78.5L593.5 79.5L594.0 78.6L594.5 79.6L595.0 78.9L595.5 79.8L596.0 79.1L596.5 79.9L597.0 79.1L597.5 79.9L598.0 79.4L598.5 80.2L599.0 79.5L599.5 80.3L599.6 80.2M603.2 80.4L603.5 80.8L604.0 80.2L604.5 81.0L605.0 80.4L605.5 81.2L606.0 80.7L606.5 81.4L607.0 80.8L607.5 81.4L608.0 81.0L608.5 81.6L609.0 81.1L609.5 81.8L610.0 81.3L610.5 82.0L611.0 81.5L611.5 82.0L612.0 81.6L612.5 82.2L613.0 81.8L613.5 82.4L614.0 82.0L614.5 82.5L615.0 82.2L615.5 82.7L616.0 82.4L616.5 82.8L617.0 82.5L617.5 83.0L618.0 82.7L618.5 83.1L619.0 82.9L619.5 83.3L620.0 83.1L620.5 83.5L620.6 83.4M624.4 84.1L624.5 84.1L625.0 83.9L625.5 84.3L626.0 84.1L626.5 84.4L627.0 84.3L627.5 84.6L628.0 84.5L628.5 84.8L629.0 84.7L629.5 84.9L630.0 84.9L630.5 85.1L631.0 85.0L631.5 85.3L632.0 85.2L632.5 85.5L633.0 85.4L633.4 85.6M637.0 86.1L637.5 86.3L638.0 86.3L638.5 86.4L639.0 86.5L639.5 86.6L640.0 86.7L640.5 86.8L641.5 86.9L642.5 87.1L643.5 87.3L644.5 87.5L645.5 87.6L646.5 87.8L647.5 88.0L648.5 88.1L649.5 88.3L650.5 88.5L651.5 88.6L652.5 88.8L653.5 89.0L654.5 89.1M658.4 89.7L658.5 89.8L659.5 89.9L660.5 90.1L661.5 90.2L662.5 90.4L663.5 90.5L664.5 90.7L665.5 90.8L666.5 91.0L667.4 91.1M671.1 91.6L671.5 91.7L672.5 91.8L673.5 92.0L674.5 92.1L675.5 92.3L676.5 92.4L677.5 92.6L678.5 92.7L679.5 92.8L680.5 93.0L681.5 93.1L682.5 93.3L683.5 93.4L684.5 93.5L685.5 93.7L686.5 93.8L687.5 94.0L688.5 94.1L688.7 94.1M692.6 94.7L693.5 94.9L694.5 95.0L695.5 95.2L696.5 95.3L697.5 95.5L698.5 95.7L699.5 95.8L700.5 96.0L701.5 96.1L701.7 96.2M705.4 96.8L705.5 96.8L706.5 97.0L707.5 97.2L708.5 97.3L709.5 97.5L710.5 97.7L711.5 97.9L712.5 98.1L713.5 98.2L714.5 98.4L715.5 98.6L716.5 98.8L717.5 99.0L718.5 99.1L719.5 99.3L720.5 99.5L721.5 99.7L722.5 99.9L723.0 100.0M726.9 100.7L727.5 100.8L728.5 101.0L729.5 101.2L730.5 101.4L731.5 101.6L732.5 101.8L733.5 102.0L734.5 102.2L735.5 102.4L736.0 102.5M739.7 103.2L740.5 103.4L741.5 103.6L742.5 103.8L743.5 104.0L744.5 104.2L745.5 104.4L746.5 104.6L747.5 104.8L748.5 105.0L749.5 105.2L750.5 105.4L751.5 105.6L752.5 105.8L753.5 106.0L754.5 106.2L755.5 106.4L756.5 106.6L757.3 106.7M761.2 107.5L761.5 107.6L762.5 107.8L763.5 108.0L764.5 108.2L765.5 108.4L766.5 108.6L767.5 108.8L768.5 109.0L769.5 109.2L770.3 109.4M774.0 110.2L774.5 110.3L775.5 110.5L776.5 110.7L777.5 110.9L778.5 111.1L779.5 111.3L780.5 111.5L781.5 111.7L782.5 112.0L783.5 112.2L784.5 112.4L785.5 112.6L786.5 112.8L787.5 113.0L788.5 113.2L789.5 113.4L790.5 113.7L791.5 113.9L791.7 113.9M795.6 114.8L796.5 115.0L797.5 115.2L798.5 115.4L799.5 115.6L800.5 115.8L801.5 116.0L802.5 116.3L803.5 116.5L804.5 116.7L804.7 116.8M808.5 117.6L808.5 117.6L809.5 117.8L810.5 118.0L811.5 118.2L812.5 118.5L813.5 118.7L814.5 118.9L815.5 119.1L816.5 119.4L817.5 119.6L818.5 119.8L819.5 120.0L820.5 120.3L821.5 120.5L822.5 120.7L823.5 120.9L824.5 121.2L825.5 121.4L826.2 121.5M830.1 122.4L830.5 122.5L831.5 122.8L832.5 123.0L833.5 123.2L834.5 123.4L835.5 123.7L836.5 123.9L837.5 124.1L838.5 124.4L839.3 124.5M843.0 125.4L843.5 125.5L844.5 125.7L845.5 126.0L846.5 126.2L847.5 126.4L848.5 126.7L849.5 126.9L850.5 127.1L851.5 127.4L852.5 127.6L853.5 127.8L854.5 128.1L855.5 128.3L856.5 128.6L857.5 128.8L858.5 129.0L859.5 129.3L860.5 129.5L860.8 129.6M864.7 130.5L865.5 130.7L866.5 130.9L867.5 131.2L868.5 131.4L869.5 131.7L870.5 131.9L871.5 132.2L872.5 132.4L873.5 132.6L873.9 132.7M877.6 133.6L878.5 133.9L879.5 134.1L880.5 134.3L881.5 134.6L882.5 134.8L883.5 135.1L884.5 135.3L885.5 135.6L886.5 135.8L887.5 136.1L888.5 136.3L889.5 136.6L890.5 136.8L891.5 137.1L892.5 137.3L893.5 137.5L894.5 137.8L895.4 138.0M899.4 139.0L899.5 139.0L900.5 139.3L901.5 139.5L902.5 139.8L903.5 140.0L904.5 140.3L905.5 140.5L906.5 140.8L907.5 141.0L908.5 141.3L908.5 141.3M912.3 142.2L912.5 142.3L913.5 142.6L914.5 142.8L915.5 143.1L916.5 143.3L917.5 143.6L918.5 143.8L919.5 144.1L920.5 144.3L921.5 144.6L922.5 144.8L923.5 145.1L924.5 145.3L925.5 145.6L926.5 145.8L927.5 146.1L928.5 146.4L929.5 146.6L930.1 146.7M934.0 147.8L934.5 147.9L935.5 148.1L936.5 148.4L937.5 148.6L938.5 148.9L939.5 149.2L940.5 149.4L941.5 149.7L942.5 149.9L943.2 150.1M946.9 151.1L947.5 151.2L948.5 151.5L949.5 151.7L950.5 152.0L951.5 152.2L952.5 152.5L953.5 152.7L954.5 153.0L955.5 153.2L956.5 153.5L957.5 153.8L958.5 154.0L959.5 154.3L960.5 154.5L961.5 154.8L962.5 155.0L963.5 155.3L964.5 155.6L964.7 155.6M968.7 156.6L969.5 156.9L970.5 157.1L971.5 157.4L972.5 157.6L973.5 157.9L974.5 158.2L975.5 158.4L976.5 158.7L977.5 158.9L977.8 159.0M981.6 160.0L982.5 160.3L983.5 160.5L984.5 160.8L985.5 161.0L986.5 161.3L987.5 161.6L988.5 161.8L989.5 162.1L990.5 162.4L991.5 162.6L992.5 162.9L993.5 163.2L994.5 163.4L995.5 163.7L996.5 164.0L997.5 164.2L998.5 164.5L999.3 164.7M1003.3 165.8L1003.5 165.8L1004.5 166.1L1005.5 166.3L1006.5 166.6L1007.5 166.9L1008.5 167.1L1009.5 167.4L1010.5 167.7L1011.5 167.9L1012.4 168.2M1016.2 169.2L1016.5 169.3L1017.5 169.5L1018.5 169.8L1019.5 170.1L1020.5 170.3L1021.5 170.6L1022.5 170.9L1023.5 171.1L1024.5 171.4L1025.5 171.6L1026.5 171.9L1027.5 172.2L1028.5 172.4L1029.5 172.7L1030.5 172.9L1031.5 173.2L1032.5 173.5L1033.5 173.7L1034.0 173.9M1038.0 174.9L1038.5 175.0L1039.5 175.3L1040.5 175.6L1041.5 175.8L1042.5 176.1L1043.5 176.3L1044.5 176.6L1045.5 176.9L1046.5 177.1L1047.2 177.3M1050.9 178.3L1051.5 178.5L1052.5 178.8L1053.5 179.1L1054.5 179.3L1055.5 179.6L1056.5 179.9L1057.5 180.2L1058.5 180.5L1059.5 180.7L1060.5 181.0L1061.5 181.3L1062.5 181.6L1063.5 181.9L1064.5 182.2L1065.5 182.4L1066.5 182.7L1067.5 183.0L1068.5 183.3L1068.7 183.4M1072.7 184.6L1073.5 184.8L1074.5 185.1L1075.5 185.4L1076.5 185.7L1077.5 186.1L1078.5 186.4L1079.5 186.7L1080.5 187.1L1081.5 187.4L1081.8 187.5M1085.4 188.9L1085.5 188.9L1086.5 189.3L1087.5 189.7L1088.5 190.1L1089.5 190.6L1090.5 191.0L1091.5 191.4L1092.5 191.9L1093.5 192.3L1094.5 192.8L1095.5 193.2L1096.5 193.7L1097.5 194.2L1098.5 194.7L1099.5 195.2L1100.5 195.7L1101.5 196.2L1102.3 196.6M1106.0 198.5L1106.5 198.8L1107.5 199.4L1108.5 199.9L1109.5 200.5L1110.5 201.1L1111.5 201.6L1112.5 202.2L1113.5 202.8L1114.3 203.3M1117.7 205.4L1118.5 205.9L1119.5 206.6L1120.5 207.2L1121.5 207.9L1122.5 208.6L1123.5 209.3L1124.5 210.0L1125.5 210.7L1126.5 211.5L1127.5 212.3L1128.5 213.0L1129.5 213.8L1130.5 214.6L1131.5 215.5L1132.5 216.3L1132.8 216.6M1136.0 219.4L1136.5 219.8L1137.5 220.7L1138.5 221.7L1139.5 222.6L1140.5 223.6L1141.5 224.6L1142.5 225.7L1142.9 226.2M1145.5 229.3L1145.5 229.4L1146.5 230.8L1147.5 232.3L1148.5 233.8L1149.5 235.3L1150.5 236.8L1151.5 238.3L1152.5 239.8L1153.5 241.3L1154.5 242.8L1155.5 244.4L1156.0 245.2M1158.3 248.8L1158.5 249.1L1159.5 250.7L1160.5 252.4L1161.5 254.1L1162.5 255.8L1163.4 257.3M1165.3 260.9L1165.5 261.3L1166.5 263.2L1167.5 265.1L1168.5 267.1L1169.5 269.0L1170.5 271.1L1171.5 273.1L1172.5 275.2L1173.5 277.3L1173.9 278.1M1175.8 282.1L1176.5 283.7L1177.5 285.9L1178.5 288.0L1179.5 290.3L1179.9 291.1M1181.5 294.9L1182.5 297.1L1183.5 299.5L1184.5 301.8L1185.5 304.3L1186.5 306.7L1187.5 309.2L1188.5 311.8L1188.9 312.8M1190.5 316.9L1190.5 317.0L1191.5 319.7L1192.5 322.5L1193.5 325.3L1193.8 326.3M1195.2 330.1L1195.5 331.1L1196.5 334.1L1197.5 337.1L1198.5 340.1L1199.5 343.1L1200.5 346.1L1201.3 348.6M1202.7 352.7L1203.5 355.1L1204.5 358.1L1205.5 361.2L1205.8 362.2M1207.1 366.1L1207.5 367.4L1208.5 370.5L1209.5 373.6L1210.5 376.8L1211.5 380.0L1212.5 383.3L1212.9 384.6M1214.2 388.8L1214.5 390.0L1215.5 393.4L1216.5 396.8L1216.9 398.4M1218.1 402.3L1218.5 403.7L1219.5 407.1L1220.5 410.5L1221.5 413.8L1222.5 417.1L1223.5 420.4L1223.7 420.9M1224.9 425.1L1225.5 426.9L1226.5 430.2L1227.5 433.6L1227.8 434.7M1229.0 438.6L1229.5 440.3L1230.5 443.6L1231.5 447.0L1232.5 450.4L1233.5 453.8L1234.5 457.1L1234.5 457.2M1235.8 461.4L1236.5 463.9L1237.5 467.3L1238.5 470.7L1238.6 471.0M1239.8 475.0L1240.5 477.3L1241.5 480.5L1242.5 483.5L1243.5 486.4L1244.5 489.3L1245.5 492.1L1246.0 493.4M1247.5 497.5L1247.5 497.5L1248.5 500.0L1249.5 502.3L1250.5 504.4L1251.5 506.3L1251.7 506.6M1253.8 510.1L1254.5 511.2L1255.5 512.7L1256.5 514.2L1257.5 515.4L1258.5 516.5L1259.5 517.4L1260.5 518.2L1261.5 518.9L1262.5 519.4L1263.5 519.8L1264.5 520.2L1265.5 520.5L1266.4 520.6"/>
</g>
<rect x="209.9" y="169.7" width="93.1" height="313.7" fill="#fff" stroke="#4a4a4a" stroke-width="1.0"/>
<g fill="none" stroke-width="4.2">
<path stroke="#000" d="M213.5 197.4H249.9"/>
<path stroke="#000" stroke-dasharray="18.3 5.2 9.6 9" d="M213.5 248.9H249.9"/>
<path stroke="#000" stroke-dasharray="18.4 30" d="M213.5 300.4H249.9"/>
<path stroke="#000" stroke-dasharray="4.6 4.7" d="M213.5 351.9H249.9"/>
<path stroke="#f00" d="M213.5 403.6H249.9"/>
<path stroke="#f00" stroke-dasharray="18.3 5.2 9.6 9" d="M213.5 455.3H249.9"/>
</g>
<g font-family="'Liberation Serif', serif" style="will-change:transform">
<text transform="translate(252.9 213.6) scale(1.0 1.058)" font-size="45px" text-anchor="start" fill="#000" stroke="#fff" stroke-width="0.45">#1</text>
<text transform="translate(252.9 265.1) scale(1.0 1.058)" font-size="45px" text-anchor="start" fill="#000" stroke="#fff" stroke-width="0.45">#2</text>
<text transform="translate(252.9 316.6) scale(1.0 1.058)" font-size="45px" text-anchor="start" fill="#000" stroke="#fff" stroke-width="0.45">#3</text>
<text transform="translate(252.9 368.1) scale(1.0 1.058)" font-size="45px" text-anchor="start" fill="#000" stroke="#fff" stroke-width="0.45">#4</text>
<text transform="translate(252.9 419.8) scale(1.0 1.058)" font-size="45px" text-anchor="start" fill="#000" stroke="#fff" stroke-width="0.45">#5</text>
<text transform="translate(252.9 471.5) scale(1.0 1.058)" font-size="45px" text-anchor="start" fill="#000" stroke="#fff" stroke-width="0.45">#6</text>
</g>
</svg>
</body>
</html>
